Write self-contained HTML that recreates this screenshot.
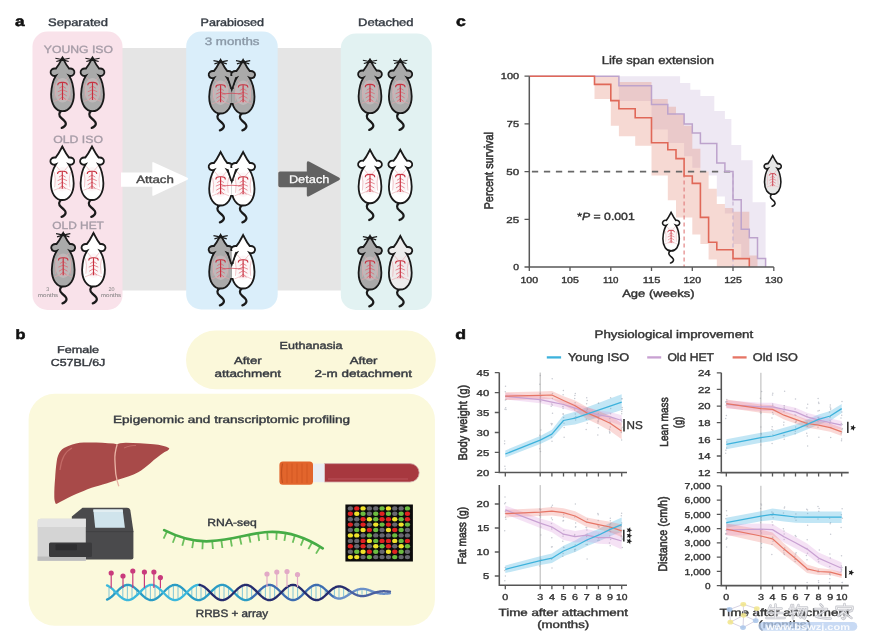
<!DOCTYPE html>
<html><head><meta charset="utf-8"><title>Figure</title>
<style>
html,body{margin:0;padding:0;background:#fff;width:869px;height:640px;overflow:hidden}
svg{display:block;filter:blur(0.45px)}
text{font-family:"Liberation Sans",sans-serif;text-rendering:geometricPrecision}
</style></head><body>
<svg width="869" height="640" viewBox="0 0 869 640">
<rect width="869" height="640" fill="#ffffff"/>
<defs>
<path id="mtail" d="M-0.5,51.5 C-4,54 -4.5,57 -1,59.5 C2.5,62 5,64.5 2.5,67 C1.5,68 0.5,68.6 -0.8,68.9" fill="none" stroke="#1a1a1a" stroke-width="2.3" stroke-linecap="round"/>
<g id="mvasc"><ellipse cx="0" cy="32" rx="8.5" ry="12" fill="#f6dde2" opacity="0.28"/><path d="M-2,24 L-6,19.5 M2,24 L6,19.5 M-8.5,25 Q-6.5,31 -8,40 M8.5,25 Q6.5,31 8,40 M-9,43 Q0,38.5 9,43" fill="none" stroke="#e9a3aa" stroke-width="0.6"/><path d="M0,28 L-3.5,30 M0,28 L3.5,30 M0,31.5 L-5,33.5 M0,31.5 L5,33.5 M0,35 L-4.5,37.5 M0,35 L4.5,37.5 M0,38.5 L-3.5,41 M0,38.5 L3.5,41" fill="none" stroke="#e0606e" stroke-width="0.75"/><path d="M-5,27 Q-5,24 0,24.3 Q5,24 5,27 M0,24 L0,41.5" fill="none" stroke="#c8303f" stroke-width="1.2"/></g>
<path id="mbody" d="M0,0 C1.2,2 3.5,7 7,10.8 C10.5,10.3 13,12.5 12.5,15 C12,17.5 9,18.5 6.8,17.6 C8.5,20 11.6,27 12,36 C12,46 7,52.5 0,52.5 C-7,52.5 -12,46 -12,36 C-11.6,27 -8.5,20 -6.8,17.6 C-9,18.5 -12,17.5 -12.5,15 C-13,12.5 -10.5,10.3 -7,10.8 C-3.5,7 -1.2,2 0,0 Z"/>
<g id="mwhisk"><path d="M-7.5,0.6 Q-3,1.2 0,2.4 Q3,1.2 7.5,0.6 M-6.5,3.8 Q-3,2.6 0,2.4 Q3,2.6 6.5,3.8" fill="none" stroke="#1a1a1a" stroke-width="1.15"/><ellipse cx="0" cy="1.6" rx="2.2" ry="1.4" fill="#1a1a1a"/></g>
<ellipse id="mnose" cx="0" cy="1.0" rx="1.3" ry="1.0" fill="#1a1a1a"/>
</defs>
<rect x="112" y="48" width="240" height="242.5" fill="#e5e5e5"/>
<rect x="32.5" y="31.5" width="90" height="278.5" rx="15" fill="#f9e2ea"/>
<rect x="186.2" y="31.5" width="91.5" height="278" rx="15" fill="#daeefa"/>
<rect x="340.8" y="33.4" width="91" height="276.6" rx="15" fill="#e2f2f2"/>
<path d="M121,172.5 H152.3 V163 Q152.3,161.5 154,162.4 L187.5,177.8 Q189,178.8 187.5,179.8 L154,195.5 Q152.3,196.4 152.3,195 V186.8 H121 Z" fill="#ffffff"/>
<path d="M280,171.4 H306.8 V163 Q306.8,160.5 309,161.6 L339,177.4 Q341,178.8 339,180.2 L309,196.2 Q306.8,197.4 306.8,195 V187.2 H280 Q278.3,187.2 278.3,185.5 V173.1 Q278.3,171.4 280,171.4 Z" fill="#626262"/>
<text x="15.1" y="25.9" font-size="14.2" fill="#111" font-weight="bold" textLength="9.6" lengthAdjust="spacingAndGlyphs" stroke="#111" stroke-width="0.5">a</text>
<text x="48.0" y="26.2" font-size="10.9" fill="#363c44" textLength="60.0" lengthAdjust="spacingAndGlyphs" stroke="#363c44" stroke-width="0.4">Separated</text>
<text x="200.5" y="26.3" font-size="10.8" fill="#363c44" textLength="63.6" lengthAdjust="spacingAndGlyphs" stroke="#363c44" stroke-width="0.4">Parabiosed</text>
<text x="358.1" y="26.3" font-size="10.8" fill="#363c44" textLength="55.4" lengthAdjust="spacingAndGlyphs" stroke="#363c44" stroke-width="0.4">Detached</text>
<text x="204.7" y="44.9" font-size="10.9" fill="#8a98a6" textLength="54.8" lengthAdjust="spacingAndGlyphs" stroke="#8a98a6" stroke-width="0.35">3 months</text>
<text x="43.8" y="52.5" font-size="10.5" fill="#a69ca7" textLength="69.1" lengthAdjust="spacingAndGlyphs" stroke="#a69ca7" stroke-width="0.35">YOUNG ISO</text>
<text x="53.2" y="142.5" font-size="10.5" fill="#a69ca7" textLength="49.8" lengthAdjust="spacingAndGlyphs" stroke="#a69ca7" stroke-width="0.35">OLD ISO</text>
<text x="52.3" y="229.2" font-size="10.5" fill="#a69ca7" textLength="51.6" lengthAdjust="spacingAndGlyphs" stroke="#a69ca7" stroke-width="0.35">OLD HET</text>
<text x="136.2" y="182.8" font-size="10.5" fill="#4a4a4a" textLength="37.7" lengthAdjust="spacingAndGlyphs" stroke="#4a4a4a" stroke-width="0.4">Attach</text>
<text x="288.9" y="182.9" font-size="11.0" fill="#ffffff" textLength="40.5" lengthAdjust="spacingAndGlyphs" stroke="#ffffff" stroke-width="0.25">Detach</text>
<text x="47.8" y="291.3" font-size="5.4" fill="#7a7a7a" text-anchor="middle">3</text>
<text x="48.0" y="296.8" font-size="5.4" fill="#7a7a7a" text-anchor="middle" textLength="20.5" lengthAdjust="spacingAndGlyphs">months</text>
<text x="111.5" y="291.3" font-size="5.4" fill="#7a7a7a" text-anchor="middle" textLength="6.0" lengthAdjust="spacingAndGlyphs">20</text>
<text x="111.0" y="296.8" font-size="5.4" fill="#7a7a7a" text-anchor="middle" textLength="20.5" lengthAdjust="spacingAndGlyphs">months</text>
<g transform="translate(62.5,57.6) scale(0.950,1.020)"><use href="#mtail"/><use href="#mbody" fill="#aaaaaa" stroke="#1a1a1a" stroke-width="1.9"/><use href="#mvasc"/><use href="#mwhisk"/></g>
<g transform="translate(92.5,57.6) scale(0.950,1.020)"><use href="#mtail"/><use href="#mbody" fill="#aaaaaa" stroke="#1a1a1a" stroke-width="1.9"/><use href="#mvasc"/><use href="#mwhisk"/></g>
<g transform="translate(62.3,146.5) scale(0.950,1.020)"><use href="#mtail"/><use href="#mbody" fill="#ffffff" stroke="#1a1a1a" stroke-width="1.9"/><use href="#mvasc"/><use href="#mnose"/></g>
<g transform="translate(92,146.5) scale(0.950,1.020)"><use href="#mtail"/><use href="#mbody" fill="#ffffff" stroke="#1a1a1a" stroke-width="1.9"/><use href="#mvasc"/><use href="#mnose"/></g>
<g transform="translate(63.2,233) scale(0.950,1.020)"><use href="#mtail"/><use href="#mbody" fill="#aaaaaa" stroke="#1a1a1a" stroke-width="1.9"/><use href="#mvasc"/><use href="#mwhisk"/></g>
<g transform="translate(93.5,233) scale(0.950,1.020)"><use href="#mtail"/><use href="#mbody" fill="#ffffff" stroke="#1a1a1a" stroke-width="1.9"/><use href="#mvasc"/><use href="#mnose"/></g>
<g transform="translate(220.6,60) scale(0.950,1.020)"><use href="#mtail"/><use href="#mbody" fill="#aaaaaa" stroke="#1a1a1a" stroke-width="1.9"/><use href="#mvasc"/><use href="#mwhisk"/></g>
<g transform="translate(243.1,60) scale(0.950,1.020)"><use href="#mtail"/><use href="#mbody" fill="#aaaaaa" stroke="#1a1a1a" stroke-width="1.9"/><use href="#mvasc"/><use href="#mwhisk"/></g>
<path d="M228.3,76.0 L235.3,76.0 L232.7,90.0 L231.0,90.0 Z" fill="#aaaaaa"/>
<path d="M231.8,76.0 L235.3,76.0 L232.7,90.0 L231.8,90.0 Z" fill="#aaaaaa"/>
<rect x="228.8" y="89.0" width="3" height="14" fill="#aaaaaa"/>
<rect x="231.8" y="89.0" width="3" height="14" fill="#aaaaaa"/>
<path d="M227.8,78.0 L231.8,90.0 L235.8,78.0" stroke="#1a1a1a" stroke-width="1.5" fill="none"/>
<path d="M221.6,94 Q231.85,92.5 242.1,94" stroke="#d23c4c" stroke-width="0.7" fill="none"/>
<g transform="translate(220.6,152) scale(0.950,1.020)"><use href="#mtail"/><use href="#mbody" fill="#ffffff" stroke="#1a1a1a" stroke-width="1.9"/><use href="#mvasc"/><use href="#mnose"/></g>
<g transform="translate(243.1,152) scale(0.950,1.020)"><use href="#mtail"/><use href="#mbody" fill="#ffffff" stroke="#1a1a1a" stroke-width="1.9"/><use href="#mvasc"/><use href="#mnose"/></g>
<path d="M228.3,168.0 L235.3,168.0 L232.7,182.0 L231.0,182.0 Z" fill="#ffffff"/>
<path d="M231.8,168.0 L235.3,168.0 L232.7,182.0 L231.8,182.0 Z" fill="#ffffff"/>
<rect x="228.8" y="181.0" width="3" height="14" fill="#ffffff"/>
<rect x="231.8" y="181.0" width="3" height="14" fill="#ffffff"/>
<path d="M227.8,170.0 L231.8,182.0 L235.8,170.0" stroke="#1a1a1a" stroke-width="1.5" fill="none"/>
<path d="M221.6,186 Q231.85,184.5 242.1,186" stroke="#d23c4c" stroke-width="0.7" fill="none"/>
<g transform="translate(220.6,235) scale(0.950,1.020)"><use href="#mtail"/><use href="#mbody" fill="#aaaaaa" stroke="#1a1a1a" stroke-width="1.9"/><use href="#mvasc"/><use href="#mwhisk"/></g>
<g transform="translate(243.1,235) scale(0.950,1.020)"><use href="#mtail"/><use href="#mbody" fill="#ffffff" stroke="#1a1a1a" stroke-width="1.9"/><use href="#mvasc"/><use href="#mnose"/></g>
<path d="M228.3,251.0 L235.3,251.0 L232.7,265.0 L231.0,265.0 Z" fill="#aaaaaa"/>
<path d="M231.8,251.0 L235.3,251.0 L232.7,265.0 L231.8,265.0 Z" fill="#ffffff"/>
<rect x="228.8" y="264.0" width="3" height="14" fill="#aaaaaa"/>
<rect x="231.8" y="264.0" width="3" height="14" fill="#ffffff"/>
<path d="M227.8,253.0 L231.8,265.0 L235.8,253.0" stroke="#1a1a1a" stroke-width="1.5" fill="none"/>
<path d="M221.6,269 Q231.85,267.5 242.1,269" stroke="#d23c4c" stroke-width="0.7" fill="none"/>
<g transform="translate(370,59.6) scale(0.950,1.020)"><use href="#mtail"/><use href="#mbody" fill="#aaaaaa" stroke="#1a1a1a" stroke-width="1.9"/><use href="#mvasc"/><use href="#mwhisk"/></g>
<g transform="translate(400.3,59.6) scale(0.950,1.020)"><use href="#mtail"/><use href="#mbody" fill="#aaaaaa" stroke="#1a1a1a" stroke-width="1.9"/><use href="#mvasc"/><use href="#mwhisk"/></g>
<g transform="translate(370,149.7) scale(0.950,1.020)"><use href="#mtail"/><use href="#mbody" fill="#ffffff" stroke="#1a1a1a" stroke-width="1.9"/><use href="#mvasc"/><use href="#mnose"/></g>
<g transform="translate(400.3,149.7) scale(0.950,1.020)"><use href="#mtail"/><use href="#mbody" fill="#ffffff" stroke="#1a1a1a" stroke-width="1.9"/><use href="#mvasc"/><use href="#mnose"/></g>
<g transform="translate(370,236) scale(0.950,1.020)"><use href="#mtail"/><use href="#mbody" fill="#a9a9a9" stroke="#1a1a1a" stroke-width="1.9"/><use href="#mvasc"/><use href="#mwhisk"/></g>
<g transform="translate(400.3,236) scale(0.950,1.020)"><use href="#mtail"/><use href="#mbody" fill="#ededed" stroke="#1a1a1a" stroke-width="1.9"/><use href="#mvasc"/><use href="#mnose"/></g>
<path d="M618.9,76.2 H680.1 V83.1 H690.3 V89.7 H700.4 V96.0 H714.3 V110.9 H724.9 V118.9 H731.4 V144.9 H741.2 V160.2 H752.6 V202.3 H765.6 V261.3 H765.7 V267.0 H749.3 V257.5 H741.2 V244.1 H733.0 V213.6 H724.9 V196.4 H716.8 V175.4 H708.6 V171.6 H700.4 V167.8 H692.3 V156.3 H684.1 V143.0 H667.8 V129.6 H651.5 V101.0 H618.9 Z" fill="rgb(200,180,215)" fill-opacity="0.3"/>
<path d="M594.5,76.2 H618.9 V81.9 H651.5 V99.1 H667.8 V106.7 H676.0 V114.4 H684.1 V125.8 H692.3 V148.7 H700.4 V171.6 H708.6 V188.8 H716.8 V204.0 H724.9 V207.9 H733.0 V211.7 H749.3 V255.6 H757.5 V267.0 H716.8 V259.4 H708.6 V244.1 H700.4 V234.6 H692.3 V217.4 H676.0 V200.2 H667.8 V175.4 H651.5 V145.7 H635.2 V136.3 H618.9 V125.8 H610.8 V99.1 H594.5 Z" fill="rgb(225,130,110)" fill-opacity="0.3"/>
<path d="M529.3,171.6 H733.0" stroke="#686868" stroke-width="1.6" stroke-dasharray="6.3,5.7" stroke-dashoffset="9.4" fill="none"/>
<path d="M684.1,173.6 V267.0" stroke="#e07a7a" stroke-width="1.1" stroke-dasharray="4,3" fill="none"/>
<path d="M733.0,173.6 V267.0" stroke="#c4b0d0" stroke-width="1.1" stroke-dasharray="4,3" fill="none"/>
<path d="M529.3,76.2 H618.9 V85.7 H651.5 V104.4 H667.8 V114.0 H684.1 V123.9 H692.3 V133.1 H700.4 V143.4 H716.8 V163.0 H724.9 V171.4 H733.0 V199.8 H741.2 V229.2 H749.3 V237.8 H757.5 V258.6 H765.6 V267.0" stroke="#bda3cc" stroke-width="1.5" fill="none"/>
<path d="M529.3,76.2 H594.5 V84.4 H610.8 V100.6 H618.9 V108.8 H635.2 V117.8 H651.5 V142.8 H667.8 V149.7 H676.0 V158.6 H684.1 V176.0 H692.3 V183.4 H700.4 V217.4 H708.6 V242.2 H716.8 V249.8 H733.0 V258.6 H749.3 V267.0" stroke="#e06858" stroke-width="1.6" fill="none"/>
<path d="M529.3,76.2 V267.0 H773.8" stroke="#585858" stroke-width="1.5" fill="none"/>
<path d="M524.5,267.0 H529.3 M524.5,219.3 H529.3 M524.5,171.6 H529.3 M524.5,123.9 H529.3 M524.5,76.2 H529.3 M529.3,267.0 V271.0 M570.0,267.0 V271.0 M610.8,267.0 V271.0 M651.5,267.0 V271.0 M692.3,267.0 V271.0 M733.0,267.0 V271.0 M773.8,267.0 V271.0 " stroke="#585858" stroke-width="1.3" fill="none"/>
<text x="513.3" y="270.2" font-size="8.7" fill="#333" textLength="5.8" lengthAdjust="spacingAndGlyphs" stroke="#333" stroke-width="0.35">0</text>
<text x="506.2" y="222.5" font-size="8.7" fill="#333" textLength="12.9" lengthAdjust="spacingAndGlyphs" stroke="#333" stroke-width="0.35">25</text>
<text x="506.2" y="174.8" font-size="8.7" fill="#333" textLength="12.9" lengthAdjust="spacingAndGlyphs" stroke="#333" stroke-width="0.35">50</text>
<text x="506.8" y="127.1" font-size="8.7" fill="#333" textLength="12.3" lengthAdjust="spacingAndGlyphs" stroke="#333" stroke-width="0.35">75</text>
<text x="500.8" y="79.4" font-size="8.7" fill="#333" textLength="18.3" lengthAdjust="spacingAndGlyphs" stroke="#333" stroke-width="0.35">100</text>
<text x="520.4" y="282.6" font-size="8.7" fill="#333" textLength="17.7" lengthAdjust="spacingAndGlyphs" stroke="#333" stroke-width="0.35">100</text>
<text x="561.2" y="282.6" font-size="8.7" fill="#333" textLength="17.7" lengthAdjust="spacingAndGlyphs" stroke="#333" stroke-width="0.35">105</text>
<text x="603.0" y="282.6" font-size="8.7" fill="#333" textLength="15.5" lengthAdjust="spacingAndGlyphs" stroke="#333" stroke-width="0.35">110</text>
<text x="642.7" y="282.6" font-size="8.7" fill="#333" textLength="17.7" lengthAdjust="spacingAndGlyphs" stroke="#333" stroke-width="0.35">115</text>
<text x="683.4" y="282.6" font-size="8.7" fill="#333" textLength="17.7" lengthAdjust="spacingAndGlyphs" stroke="#333" stroke-width="0.35">120</text>
<text x="724.2" y="282.6" font-size="8.7" fill="#333" textLength="17.7" lengthAdjust="spacingAndGlyphs" stroke="#333" stroke-width="0.35">125</text>
<text x="764.9" y="282.6" font-size="8.7" fill="#333" textLength="17.7" lengthAdjust="spacingAndGlyphs" stroke="#333" stroke-width="0.35">130</text>
<text x="456.1" y="25.9" font-size="14.2" fill="#111" font-weight="bold" textLength="9.8" lengthAdjust="spacingAndGlyphs" stroke="#111" stroke-width="0.5">c</text>
<text x="601.7" y="64.4" font-size="11.3" fill="#333" textLength="112.2" lengthAdjust="spacingAndGlyphs" stroke="#333" stroke-width="0.4">Life span extension</text>
<text x="622.2" y="296.9" font-size="10.5" fill="#333" textLength="72.4" lengthAdjust="spacingAndGlyphs" stroke="#333" stroke-width="0.4">Age (weeks)</text>
<text x="0.0" y="0.0" font-size="10.9" fill="#333" text-anchor="middle" textLength="77.4" lengthAdjust="spacingAndGlyphs" stroke="#333" stroke-width="0.5" transform="translate(493.3,170.7) scale(1.15,1) rotate(-90)">Percent survival</text>
<text x="577.3" y="220.0" font-size="10.4" fill="#333" stroke="#333" stroke-width="0.4" textLength="57.4" lengthAdjust="spacingAndGlyphs">*<tspan font-style="italic">P</tspan> = 0.001</text>
<g transform="translate(671.1,212.4) scale(0.684,0.734)"><use href="#mtail"/><use href="#mbody" fill="#ffffff" stroke="#1a1a1a" stroke-width="2.3"/><use href="#mvasc"/><use href="#mnose"/></g>
<g transform="translate(772.7,155.7) scale(0.684,0.734)"><use href="#mtail"/><use href="#mbody" fill="#e6e6e6" stroke="#1a1a1a" stroke-width="2.3"/><use href="#mvasc"/><use href="#mnose"/></g>
<rect x="186" y="330.4" width="249.8" height="58.9" rx="29.4" fill="#fbf8da"/>
<rect x="28.6" y="393.8" width="406.3" height="232" rx="26" fill="#fbf9dc"/>
<text x="15.6" y="338.9" font-size="13.6" fill="#111" font-weight="bold" textLength="10.0" lengthAdjust="spacingAndGlyphs" stroke="#111" stroke-width="0.5">b</text>
<text x="57.0" y="353.2" font-size="10.0" fill="#363a40" textLength="42.1" lengthAdjust="spacingAndGlyphs" stroke="#363a40" stroke-width="0.4">Female</text>
<text x="50.7" y="365.5" font-size="10.2" fill="#363a40" textLength="54.6" lengthAdjust="spacingAndGlyphs" stroke="#363a40" stroke-width="0.4">C57BL/6J</text>
<text x="279.6" y="348.9" font-size="10.2" fill="#363a40" textLength="62.9" lengthAdjust="spacingAndGlyphs" stroke="#363a40" stroke-width="0.4">Euthanasia</text>
<text x="233.9" y="364.1" font-size="10.2" fill="#363a40" textLength="27.8" lengthAdjust="spacingAndGlyphs" stroke="#363a40" stroke-width="0.4">After</text>
<text x="214.4" y="376.7" font-size="10.2" fill="#363a40" textLength="66.7" lengthAdjust="spacingAndGlyphs" stroke="#363a40" stroke-width="0.4">attachment</text>
<text x="349.7" y="364.1" font-size="10.2" fill="#363a40" textLength="27.8" lengthAdjust="spacingAndGlyphs" stroke="#363a40" stroke-width="0.4">After</text>
<text x="314.6" y="376.7" font-size="10.2" fill="#363a40" textLength="97.3" lengthAdjust="spacingAndGlyphs" stroke="#363a40" stroke-width="0.4">2-m detachment</text>
<text x="113.0" y="422.5" font-size="10.4" fill="#363a40" textLength="237.1" lengthAdjust="spacingAndGlyphs" stroke="#363a40" stroke-width="0.4">Epigenomic and transcriptomic profiling</text>
<text x="207.3" y="526.4" font-size="10.4" fill="#363a40" textLength="49.4" lengthAdjust="spacingAndGlyphs" stroke="#363a40" stroke-width="0.4">RNA-seq</text>
<text x="195.7" y="616.6" font-size="10.7" fill="#363a40" textLength="72.5" lengthAdjust="spacingAndGlyphs" stroke="#363a40" stroke-width="0.4">RRBS + array</text>
<path d="M56.7,461.4 C58,452 62,448 68.3,445.9 C74,443.8 78,442.8 83.8,442.5 C95,442.2 105,442.8 113.4,443.5 L117,444.3 L120,443.3 C122,443 124,442.8 125.8,442.8 C135,443 145,443.6 153.7,444.3 C160,445 166,446 169.3,448.2 C169,450 167,451 164.6,452.1 C159,456 155,459 150.6,463 C146,467 142,470 138.2,472.3 C132,475.5 126,477.5 119.6,479.3 C115,480.8 111,482 107.1,483.2 C101,485 96,486.3 91.6,487.8 C86,490 81,492 76.1,494 C70,496.8 65,499.2 60.5,501.8 C58.5,503 57,504 55.9,504.1 C54.8,502 54.3,500 54.3,497.1 C54.2,490 54.6,484 55.1,478.5 C55.5,472 56,466 56.7,461.4 Z" fill="#a84a49"/>
<path d="M117.2,444.3 C115.5,450 114.6,455 114.9,460 C115.2,466 115.4,470 115.8,474 C116.6,479 117.6,483 118.8,486.3" stroke="#e9b4a6" stroke-width="1.3" fill="none"/>
<path d="M60,470 C61,460 64,452 72,448" stroke="#c26a66" stroke-width="1.2" fill="none"/>
<path d="M124,448 C128,446 132,445.5 136,445.5" stroke="#c26a66" stroke-width="1" fill="none"/>
<path d="M324.4,463.6 H410 A9.2,9.2 0 0 1 410,482 H324.4 Z" fill="#a7383f" stroke="#cfa9a9" stroke-width="0.8"/>
<path d="M328,479 H408" stroke="#c05a62" stroke-width="0.8" fill="none"/>
<rect x="312.8" y="463.6" width="11.6" height="18.6" fill="#e9edf3"/>
<rect x="279.4" y="461.6" width="33.6" height="23.1" rx="3.5" fill="#e2652c"/>
<path d="M287,463.5 V483 M292,463.5 V483 M297,463.5 V483 M302,463.5 V483 M307,463.5 V483" stroke="#cc5420" stroke-width="0.7" fill="none"/>
<path d="M282.5,463.5 Q280.5,473 282.5,483" stroke="#c24f1e" stroke-width="1.2" fill="none"/>
<path d="M71.8,516.5 L82.5,507.8 H127 Q129.5,507.8 130.3,510 L133.4,531 V557.5 Q133.4,559.6 131.3,559.6 H71.8 Z" fill="#4a4a4c"/>
<path d="M93.3,509.6 H122.6 L124.9,527.8 H95.2 Z" fill="#d0e4ec"/>
<path d="M93.4,509.6 H122.6 L122.9,512 H93.6 Z" fill="#e2eef2"/>
<path d="M72,531.6 H133.4" stroke="#3e3e40" stroke-width="0.8"/>
<path d="M37.6,522 Q37.6,518.8 40.8,518.8 H85.8 V560.8 H37.6 Z" fill="#d4d4d4"/>
<path d="M37.6,522 Q37.6,518.8 40.8,518.8 H85.8 V527 H37.6 Z" fill="#e3e3e3"/>
<rect x="37.6" y="556.5" width="48.2" height="4.3" fill="#bdbdbd"/>
<rect x="49" y="542.4" width="43" height="14.6" rx="1.5" fill="#3a3a3c"/>
<rect x="55.5" y="544.2" width="21.5" height="6" rx="1" fill="#2e2e30"/>
<rect x="345.4" y="504.5" width="67.5" height="57" fill="#0b0b0b"/>
<ellipse cx="350.4" cy="508.4" rx="2.65" ry="2.2" fill="#686870"/><ellipse cx="356.8" cy="508.4" rx="2.65" ry="2.2" fill="#e02222"/><ellipse cx="363.1" cy="508.4" rx="2.65" ry="2.2" fill="#f0e22a"/><ellipse cx="369.4" cy="508.4" rx="2.65" ry="2.2" fill="#686870"/><ellipse cx="375.8" cy="508.4" rx="2.65" ry="2.2" fill="#686870"/><ellipse cx="382.1" cy="508.4" rx="2.65" ry="2.2" fill="#6cbc40"/><ellipse cx="388.5" cy="508.4" rx="2.65" ry="2.2" fill="#f0e22a"/><ellipse cx="394.8" cy="508.4" rx="2.65" ry="2.2" fill="#686870"/><ellipse cx="401.2" cy="508.4" rx="2.65" ry="2.2" fill="#686870"/><ellipse cx="407.5" cy="508.4" rx="2.65" ry="2.2" fill="#6cbc40"/><ellipse cx="350.4" cy="513.8" rx="2.65" ry="2.2" fill="#e02222"/><ellipse cx="356.8" cy="513.8" rx="2.65" ry="2.2" fill="#f0e22a"/><ellipse cx="363.1" cy="513.8" rx="2.65" ry="2.2" fill="#6cbc40"/><ellipse cx="369.4" cy="513.8" rx="2.65" ry="2.2" fill="#686870"/><ellipse cx="375.8" cy="513.8" rx="2.65" ry="2.2" fill="#6cbc40"/><ellipse cx="382.1" cy="513.8" rx="2.65" ry="2.2" fill="#e02222"/><ellipse cx="388.5" cy="513.8" rx="2.65" ry="2.2" fill="#6cbc40"/><ellipse cx="394.8" cy="513.8" rx="2.65" ry="2.2" fill="#686870"/><ellipse cx="401.2" cy="513.8" rx="2.65" ry="2.2" fill="#6cbc40"/><ellipse cx="407.5" cy="513.8" rx="2.65" ry="2.2" fill="#e02222"/><ellipse cx="350.4" cy="519.2" rx="2.65" ry="2.2" fill="#686870"/><ellipse cx="356.8" cy="519.2" rx="2.65" ry="2.2" fill="#686870"/><ellipse cx="363.1" cy="519.2" rx="2.65" ry="2.2" fill="#e02222"/><ellipse cx="369.4" cy="519.2" rx="2.65" ry="2.2" fill="#f0e22a"/><ellipse cx="375.8" cy="519.2" rx="2.65" ry="2.2" fill="#6cbc40"/><ellipse cx="382.1" cy="519.2" rx="2.65" ry="2.2" fill="#e02222"/><ellipse cx="388.5" cy="519.2" rx="2.65" ry="2.2" fill="#e02222"/><ellipse cx="394.8" cy="519.2" rx="2.65" ry="2.2" fill="#f0e22a"/><ellipse cx="401.2" cy="519.2" rx="2.65" ry="2.2" fill="#6cbc40"/><ellipse cx="407.5" cy="519.2" rx="2.65" ry="2.2" fill="#e02222"/><ellipse cx="350.4" cy="524.6" rx="2.65" ry="2.2" fill="#e02222"/><ellipse cx="356.8" cy="524.6" rx="2.65" ry="2.2" fill="#686870"/><ellipse cx="363.1" cy="524.6" rx="2.65" ry="2.2" fill="#e02222"/><ellipse cx="369.4" cy="524.6" rx="2.65" ry="2.2" fill="#686870"/><ellipse cx="375.8" cy="524.6" rx="2.65" ry="2.2" fill="#f0e22a"/><ellipse cx="382.1" cy="524.6" rx="2.65" ry="2.2" fill="#6cbc40"/><ellipse cx="388.5" cy="524.6" rx="2.65" ry="2.2" fill="#e02222"/><ellipse cx="394.8" cy="524.6" rx="2.65" ry="2.2" fill="#686870"/><ellipse cx="401.2" cy="524.6" rx="2.65" ry="2.2" fill="#f0e22a"/><ellipse cx="407.5" cy="524.6" rx="2.65" ry="2.2" fill="#6cbc40"/><ellipse cx="350.4" cy="530.0" rx="2.65" ry="2.2" fill="#686870"/><ellipse cx="356.8" cy="530.0" rx="2.65" ry="2.2" fill="#6cbc40"/><ellipse cx="363.1" cy="530.0" rx="2.65" ry="2.2" fill="#f0e22a"/><ellipse cx="369.4" cy="530.0" rx="2.65" ry="2.2" fill="#e02222"/><ellipse cx="375.8" cy="530.0" rx="2.65" ry="2.2" fill="#6cbc40"/><ellipse cx="382.1" cy="530.0" rx="2.65" ry="2.2" fill="#686870"/><ellipse cx="388.5" cy="530.0" rx="2.65" ry="2.2" fill="#f0e22a"/><ellipse cx="394.8" cy="530.0" rx="2.65" ry="2.2" fill="#e02222"/><ellipse cx="401.2" cy="530.0" rx="2.65" ry="2.2" fill="#6cbc40"/><ellipse cx="407.5" cy="530.0" rx="2.65" ry="2.2" fill="#686870"/><ellipse cx="350.4" cy="535.4" rx="2.65" ry="2.2" fill="#f0e22a"/><ellipse cx="356.8" cy="535.4" rx="2.65" ry="2.2" fill="#f0e22a"/><ellipse cx="363.1" cy="535.4" rx="2.65" ry="2.2" fill="#686870"/><ellipse cx="369.4" cy="535.4" rx="2.65" ry="2.2" fill="#6cbc40"/><ellipse cx="375.8" cy="535.4" rx="2.65" ry="2.2" fill="#686870"/><ellipse cx="382.1" cy="535.4" rx="2.65" ry="2.2" fill="#686870"/><ellipse cx="388.5" cy="535.4" rx="2.65" ry="2.2" fill="#686870"/><ellipse cx="394.8" cy="535.4" rx="2.65" ry="2.2" fill="#6cbc40"/><ellipse cx="401.2" cy="535.4" rx="2.65" ry="2.2" fill="#686870"/><ellipse cx="407.5" cy="535.4" rx="2.65" ry="2.2" fill="#686870"/><ellipse cx="350.4" cy="540.9" rx="2.65" ry="2.2" fill="#686870"/><ellipse cx="356.8" cy="540.9" rx="2.65" ry="2.2" fill="#686870"/><ellipse cx="363.1" cy="540.9" rx="2.65" ry="2.2" fill="#e02222"/><ellipse cx="369.4" cy="540.9" rx="2.65" ry="2.2" fill="#f0e22a"/><ellipse cx="375.8" cy="540.9" rx="2.65" ry="2.2" fill="#6cbc40"/><ellipse cx="382.1" cy="540.9" rx="2.65" ry="2.2" fill="#e02222"/><ellipse cx="388.5" cy="540.9" rx="2.65" ry="2.2" fill="#e02222"/><ellipse cx="394.8" cy="540.9" rx="2.65" ry="2.2" fill="#f0e22a"/><ellipse cx="401.2" cy="540.9" rx="2.65" ry="2.2" fill="#6cbc40"/><ellipse cx="407.5" cy="540.9" rx="2.65" ry="2.2" fill="#e02222"/><ellipse cx="350.4" cy="546.3" rx="2.65" ry="2.2" fill="#e02222"/><ellipse cx="356.8" cy="546.3" rx="2.65" ry="2.2" fill="#686870"/><ellipse cx="363.1" cy="546.3" rx="2.65" ry="2.2" fill="#e02222"/><ellipse cx="369.4" cy="546.3" rx="2.65" ry="2.2" fill="#686870"/><ellipse cx="375.8" cy="546.3" rx="2.65" ry="2.2" fill="#f0e22a"/><ellipse cx="382.1" cy="546.3" rx="2.65" ry="2.2" fill="#6cbc40"/><ellipse cx="388.5" cy="546.3" rx="2.65" ry="2.2" fill="#e02222"/><ellipse cx="394.8" cy="546.3" rx="2.65" ry="2.2" fill="#686870"/><ellipse cx="401.2" cy="546.3" rx="2.65" ry="2.2" fill="#f0e22a"/><ellipse cx="407.5" cy="546.3" rx="2.65" ry="2.2" fill="#6cbc40"/><ellipse cx="350.4" cy="551.7" rx="2.65" ry="2.2" fill="#686870"/><ellipse cx="356.8" cy="551.7" rx="2.65" ry="2.2" fill="#6cbc40"/><ellipse cx="363.1" cy="551.7" rx="2.65" ry="2.2" fill="#f0e22a"/><ellipse cx="369.4" cy="551.7" rx="2.65" ry="2.2" fill="#e02222"/><ellipse cx="375.8" cy="551.7" rx="2.65" ry="2.2" fill="#6cbc40"/><ellipse cx="382.1" cy="551.7" rx="2.65" ry="2.2" fill="#686870"/><ellipse cx="388.5" cy="551.7" rx="2.65" ry="2.2" fill="#f0e22a"/><ellipse cx="394.8" cy="551.7" rx="2.65" ry="2.2" fill="#e02222"/><ellipse cx="401.2" cy="551.7" rx="2.65" ry="2.2" fill="#6cbc40"/><ellipse cx="407.5" cy="551.7" rx="2.65" ry="2.2" fill="#686870"/><ellipse cx="350.4" cy="557.1" rx="2.65" ry="2.2" fill="#f0e22a"/><ellipse cx="356.8" cy="557.1" rx="2.65" ry="2.2" fill="#f0e22a"/><ellipse cx="363.1" cy="557.1" rx="2.65" ry="2.2" fill="#686870"/><ellipse cx="369.4" cy="557.1" rx="2.65" ry="2.2" fill="#6cbc40"/><ellipse cx="375.8" cy="557.1" rx="2.65" ry="2.2" fill="#686870"/><ellipse cx="382.1" cy="557.1" rx="2.65" ry="2.2" fill="#686870"/><ellipse cx="388.5" cy="557.1" rx="2.65" ry="2.2" fill="#686870"/><ellipse cx="394.8" cy="557.1" rx="2.65" ry="2.2" fill="#6cbc40"/><ellipse cx="401.2" cy="557.1" rx="2.65" ry="2.2" fill="#686870"/><ellipse cx="407.5" cy="557.1" rx="2.65" ry="2.2" fill="#686870"/>
<path d="M167.0,531.5 L163.6,538.7 M175.7,535.2 L172.8,542.7 M184.4,538.1 L182.3,545.8 M193.5,540.2 L192.2,548.1 M202.8,541.2 L202.4,549.2 M212.2,541.0 L212.9,549.0 M221.3,540.1 L222.4,548.0 M230.5,538.6 L231.9,546.5 M239.7,536.8 L241.4,544.6 M248.9,534.8 L250.5,542.6 M258.0,533.1 L259.2,541.0 M267.2,532.0 L267.7,540.0 M276.7,531.9 L276.3,539.9 M285.7,532.9 L284.4,540.8 M295.0,535.1 L292.7,542.8 M303.8,538.2 L300.8,545.6 M312.2,542.1 L308.4,549.2 M320.2,546.7 L316.0,553.6 " stroke="#6cc05c" stroke-width="1.8" fill="none"/>
<path d="M164.2,530.1 C180,538 195,542 210,541.2 C235,539.5 250,533 268,532 C285,531 302,535 322.7,548.3" stroke="#46ac46" stroke-width="2.7" fill="none" stroke-linecap="round"/>
<path d="M109.0,587.4 V597.6 M113.6,591.1 V593.9 M118.2,591.3 V593.7 M122.8,587.5 V597.5 M127.4,585.9 V599.1 M132.0,587.1 V597.9 M136.6,590.5 V594.5 M141.2,591.9 V593.1 M145.8,587.9 V597.1 M150.4,586.0 V599.0 M155.0,586.8 V598.2 M159.6,590.0 V595.0 M164.2,592.5 V592.5 M168.8,588.3 V596.7 M173.4,586.1 V598.9 M178.0,586.5 V598.5 M182.6,589.5 V595.5 M187.2,593.1 V591.9 M191.8,588.8 V596.2 M196.4,586.2 V598.8 M201.0,586.3 V598.7 M205.6,589.0 V596.0 M210.2,593.3 V591.7 M214.8,589.3 V595.7 M219.4,586.4 V598.6 M224.0,586.1 V598.9 M228.6,588.5 V596.5 M233.2,592.7 V592.3 M237.8,589.8 V595.2 M242.4,586.7 V598.3 M247.0,586.0 V599.0 M251.6,588.1 V596.9 M256.2,592.1 V592.9 M260.8,590.4 V594.6 M265.4,587.0 V598.0 M270.0,585.9 V599.1 M274.6,587.6 V597.4 M279.2,591.5 V593.5 M283.8,590.9 V594.1 M288.4,587.3 V597.7 M293.0,585.9 V599.1 M297.6,587.3 V597.7 M302.2,590.9 V594.1 M306.8,591.5 V593.5 M311.4,587.6 V597.4 M316.0,585.9 V599.1 M320.6,587.0 V598.0 M325.2,590.4 V594.6 M329.8,592.2 V592.8 M334.4,588.8 V596.2 M339.0,587.4 V597.6 M343.6,588.4 V596.6 M348.2,591.0 V594.0 M352.8,593.0 V592.0 M357.4,590.7 V594.3 M362.0,589.9 V595.1 M366.6,590.5 V594.5 M371.2,592.0 V593.0 " stroke="#8ccbd8" stroke-width="1.1" fill="none"/>
<path d="M107.0,599.6 L107.5,599.4 M107.5,599.4 L108.0,599.1 M108.0,599.1 L108.5,598.9 M108.5,598.9 L109.0,598.6 M109.0,598.6 L109.5,598.3 M109.5,598.3 L110.0,597.9 M110.0,597.9 L110.5,597.6 M110.5,597.6 L111.0,597.2 M111.0,597.2 L111.5,596.8 M111.5,596.8 L112.0,596.4 M112.0,596.4 L112.5,595.9 M112.5,595.9 L113.0,595.5 M113.0,595.5 L113.5,595.0 M113.5,595.0 L114.0,594.5 M114.0,594.5 L114.5,594.0 M114.5,594.0 L115.0,593.5 M115.0,593.5 L115.5,593.0 M115.5,593.0 L116.0,592.5 M116.0,592.5 L116.5,592.0 M116.5,592.0 L117.0,591.5 M117.0,591.5 L117.5,591.0 M117.5,591.0 L118.0,590.5 M118.0,590.5 L118.5,590.0 M118.5,590.0 L119.0,589.5 M119.0,589.5 L119.5,589.1 M119.5,589.1 L120.0,588.6 M120.0,588.6 L120.5,588.2 M120.5,588.2 L121.0,587.8 M121.0,587.8 L121.5,587.4 M121.5,587.4 L122.0,587.1 M122.0,587.1 L122.5,586.7 M122.5,586.7 L123.0,586.4 M123.0,586.4 L123.5,586.1 M123.5,586.1 L124.0,585.9 M124.0,585.9 L124.5,585.6 M124.5,585.6 L125.0,585.4 M125.0,585.4 L125.5,585.3 M125.5,585.3 L126.0,585.1 M126.0,585.1 L126.5,585.0 M126.5,585.0 L127.0,584.9 M127.0,584.9 L127.5,584.9 M127.5,584.9 L128.0,584.9 M128.0,584.9 L128.5,584.9 M128.5,584.9 L129.0,585.0 M129.0,585.0 L129.5,585.1 M129.5,585.1 L130.0,585.2 M130.0,585.2 L130.5,585.4 M130.5,585.4 L131.0,585.6 M131.0,585.6 L131.5,585.8 M131.5,585.8 L132.0,586.1 M132.0,586.1 L132.5,586.3 M132.5,586.3 L133.0,586.6 M133.0,586.6 L133.5,587.0 M133.5,587.0 L134.0,587.3 M134.0,587.3 L134.5,587.7 M134.5,587.7 L135.0,588.1 M135.0,588.1 L135.5,588.6 M135.5,588.6 L136.0,589.0 M136.0,589.0 L136.5,589.5 M136.5,589.5 L137.0,589.9 M137.0,589.9 L137.5,590.4 M137.5,590.4 L138.0,590.9 M138.0,590.9 L138.5,591.4 M138.5,591.4 L139.0,591.9 M139.0,591.9 L139.5,592.4 M139.5,592.4 L140.0,592.9 M140.0,592.9 L140.5,593.4 M140.5,593.4 L141.0,593.9 M141.0,593.9 L141.5,594.4 M141.5,594.4 L142.0,594.9 M142.0,594.9 L142.5,595.4 M142.5,595.4 L143.0,595.8 M143.0,595.8 L143.5,596.3 M143.5,596.3 L144.0,596.7 M144.0,596.7 L144.5,597.1 M144.5,597.1 L145.0,597.5 M145.0,597.5 L145.5,597.9 M145.5,597.9 L146.0,598.2 M146.0,598.2 L146.5,598.5 M146.5,598.5 L147.0,598.8 M147.0,598.8 L147.5,599.1 M147.5,599.1 L148.0,599.3 M148.0,599.3 L148.5,599.5 M148.5,599.5 L149.0,599.7 M149.0,599.7 L149.5,599.9 M149.5,599.9 L150.0,600.0 M150.0,600.0 L150.5,600.0 M150.5,600.0 L151.0,600.1 M151.0,600.1 L151.5,600.1 M151.5,600.1 L152.0,600.1 M152.0,600.1 L152.5,600.0 M152.5,600.0 L153.0,599.9 M153.0,599.9 L153.5,599.8 M153.5,599.8 L154.0,599.6 M154.0,599.6 L154.5,599.5 M154.5,599.5 L155.0,599.2 M155.0,599.2 L155.5,599.0 M155.5,599.0 L156.0,598.7 M156.0,598.7 L156.5,598.4 M156.5,598.4 L157.0,598.1 M157.0,598.1 L157.5,597.7 M157.5,597.7 L158.0,597.4 M158.0,597.4 L158.5,597.0 M158.5,597.0 L159.0,596.5 M159.0,596.5 L159.5,596.1 M159.5,596.1 L160.0,595.6 M160.0,595.6 L160.5,595.2 M160.5,595.2 L161.0,594.7 M161.0,594.7 L161.5,594.2 M161.5,594.2 L162.0,593.7 M162.0,593.7 L162.5,593.2 M162.5,593.2 L163.0,592.7 M163.0,592.7 L163.5,592.2 M163.5,592.2 L164.0,591.7 M164.0,591.7 L164.5,591.2 M164.5,591.2 L165.0,590.7 M165.0,590.7 L165.5,590.2 M165.5,590.2 L166.0,589.7 M166.0,589.7 L166.5,589.3 M166.5,589.3 L167.0,588.8 M167.0,588.8 L167.5,588.4 M167.5,588.4 L168.0,588.0 M168.0,588.0 L168.5,587.6 M168.5,587.6 L169.0,587.2 M169.0,587.2 L169.5,586.8 M169.5,586.8 L170.0,586.5 M170.0,586.5 L170.5,586.2 M170.5,586.2 L171.0,586.0 M171.0,586.0 L171.5,585.7 M171.5,585.7 L172.0,585.5 M172.0,585.5 L172.5,585.3 M172.5,585.3 L173.0,585.2 M173.0,585.2 L173.5,585.1 M173.5,585.1 L174.0,585.0 M174.0,585.0 L174.5,584.9 M174.5,584.9 L175.0,584.9 M175.0,584.9 L175.5,584.9 M175.5,584.9 L176.0,585.0 M176.0,585.0 L176.5,585.1 M176.5,585.1 L177.0,585.2 M177.0,585.2 L177.5,585.3 M177.5,585.3 L178.0,585.5 M178.0,585.5 L178.5,585.7 M178.5,585.7 L179.0,586.0 M179.0,586.0 L179.5,586.2 M179.5,586.2 L180.0,586.5 M180.0,586.5 L180.5,586.8 M180.5,586.8 L181.0,587.2 M181.0,587.2 L181.5,587.6 M181.5,587.6 L182.0,588.0 M182.0,588.0 L182.5,588.4 M182.5,588.4 L183.0,588.8 M183.0,588.8 L183.5,589.3 M183.5,589.3 L184.0,589.7 M184.0,589.7 L184.5,590.2 M184.5,590.2 L185.0,590.7 M185.0,590.7 L185.5,591.2 M185.5,591.2 L186.0,591.7 M186.0,591.7 L186.5,592.2 M186.5,592.2 L187.0,592.7 M187.0,592.7 L187.5,593.2 M187.5,593.2 L188.0,593.7 M188.0,593.7 L188.5,594.2 M188.5,594.2 L189.0,594.7 M189.0,594.7 L189.5,595.2 M189.5,595.2 L190.0,595.6 M190.0,595.6 L190.5,596.1 M190.5,596.1 L191.0,596.5 M191.0,596.5 L191.5,597.0 M191.5,597.0 L192.0,597.4 M192.0,597.4 L192.5,597.7 M192.5,597.7 L193.0,598.1 M193.0,598.1 L193.5,598.4 M193.5,598.4 L194.0,598.7 M194.0,598.7 L194.5,599.0 M194.5,599.0 L195.0,599.2 M195.0,599.2 L195.5,599.5 M195.5,599.5 L196.0,599.6 M196.0,599.6 L196.5,599.8 M196.5,599.8 L197.0,599.9 M197.0,599.9 L197.5,600.0 M197.5,600.0 L198.0,600.1 M198.0,600.1 L198.5,600.1 M198.5,600.1 L199.0,600.1 M199.0,600.1 L199.5,600.0 M199.5,600.0 L200.0,600.0 M200.0,600.0 L200.5,599.9 M200.5,599.9 L201.0,599.7 M201.0,599.7 L201.5,599.5 M201.5,599.5 L202.0,599.3 M202.0,599.3 L202.5,599.1 M202.5,599.1 L203.0,598.8 M203.0,598.8 L203.5,598.5 M203.5,598.5 L204.0,598.2 M204.0,598.2 L204.5,597.9 M204.5,597.9 L205.0,597.5 M205.0,597.5 L205.5,597.1 M205.5,597.1 L206.0,596.7 M206.0,596.7 L206.5,596.3 M206.5,596.3 L207.0,595.8 M207.0,595.8 L207.5,595.4 M207.5,595.4 L208.0,594.9 M208.0,594.9 L208.5,594.4 M208.5,594.4 L209.0,593.9 M209.0,593.9 L209.5,593.4 M209.5,593.4 L210.0,592.9 M210.0,592.9 L210.5,592.4 M210.5,592.4 L211.0,591.9 M211.0,591.9 L211.5,591.4 M211.5,591.4 L212.0,590.9 M212.0,590.9 L212.5,590.4 M212.5,590.4 L213.0,589.9 M213.0,589.9 L213.5,589.5 M213.5,589.5 L214.0,589.0 M214.0,589.0 L214.5,588.6 M214.5,588.6 L215.0,588.1 M215.0,588.1 L215.5,587.7 M215.5,587.7 L216.0,587.3 M216.0,587.3 L216.5,587.0 M216.5,587.0 L217.0,586.6 M217.0,586.6 L217.5,586.3 M217.5,586.3 L218.0,586.1 M218.0,586.1 L218.5,585.8 M218.5,585.8 L219.0,585.6 M219.0,585.6 L219.5,585.4 M219.5,585.4 L220.0,585.2 M220.0,585.2 L220.5,585.1 M220.5,585.1 L221.0,585.0 M221.0,585.0 L221.5,584.9 M221.5,584.9 L222.0,584.9 M222.0,584.9 L222.5,584.9 M222.5,584.9 L223.0,584.9 M223.0,584.9 L223.5,585.0 M223.5,585.0 L224.0,585.1 M224.0,585.1 L224.5,585.3 M224.5,585.3 L225.0,585.4 M225.0,585.4 L225.5,585.6 M225.5,585.6 L226.0,585.9 M226.0,585.9 L226.5,586.1 M226.5,586.1 L227.0,586.4 M227.0,586.4 L227.5,586.7 M227.5,586.7 L228.0,587.1 M228.0,587.1 L228.5,587.4 M228.5,587.4 L229.0,587.8 M229.0,587.8 L229.5,588.2 M229.5,588.2 L230.0,588.6 M230.0,588.6 L230.5,589.1 M230.5,589.1 L231.0,589.5 M231.0,589.5 L231.5,590.0 M231.5,590.0 L232.0,590.5 M232.0,590.5 L232.5,591.0 M232.5,591.0 L233.0,591.5 M233.0,591.5 L233.5,592.0 M233.5,592.0 L234.0,592.5 M234.0,592.5 L234.5,593.0 M234.5,593.0 L235.0,593.5 M235.0,593.5 L235.5,594.0 M235.5,594.0 L236.0,594.5 M236.0,594.5 L236.5,595.0 M236.5,595.0 L237.0,595.5 M237.0,595.5 L237.5,595.9 M237.5,595.9 L238.0,596.4 M238.0,596.4 L238.5,596.8 M238.5,596.8 L239.0,597.2 M239.0,597.2 L239.5,597.6 M239.5,597.6 L240.0,597.9 M240.0,597.9 L240.5,598.3 M240.5,598.3 L241.0,598.6 M241.0,598.6 L241.5,598.9 M241.5,598.9 L242.0,599.1 M242.0,599.1 L242.5,599.4 M242.5,599.4 L243.0,599.6 M243.0,599.6 L243.5,599.7 M243.5,599.7 L244.0,599.9 M244.0,599.9 L244.5,600.0 M244.5,600.0 L245.0,600.1 M245.0,600.1 L245.5,600.1 M245.5,600.1 L246.0,600.1 M246.0,600.1 L246.5,600.1 M246.5,600.1 L247.0,600.0 M247.0,600.0 L247.5,599.9 M247.5,599.9 L248.0,599.8 M248.0,599.8 L248.5,599.6 M248.5,599.6 L249.0,599.4 M249.0,599.4 L249.5,599.2 M249.5,599.2 L250.0,598.9 M250.0,598.9 L250.5,598.7 M250.5,598.7 L251.0,598.4 M251.0,598.4 L251.5,598.0" stroke="#2b9cc4" stroke-width="2.3" fill="none" stroke-linecap="round"/>
<path d="M251.5,598.0 L252.0,597.7 M252.0,597.7 L252.5,597.3 M252.5,597.3 L253.0,596.9 M253.0,596.9 L253.5,596.4 M253.5,596.4 L254.0,596.0 M254.0,596.0 L254.5,595.5 M254.5,595.5 L255.0,595.1 M255.0,595.1 L255.5,594.6 M255.5,594.6 L256.0,594.1 M256.0,594.1 L256.5,593.6 M256.5,593.6 L257.0,593.1 M257.0,593.1 L257.5,592.6 M257.5,592.6 L258.0,592.1 M258.0,592.1 L258.5,591.6 M258.5,591.6 L259.0,591.1 M259.0,591.1 L259.5,590.6 M259.5,590.6 L260.0,590.1 M260.0,590.1 L260.5,589.6 M260.5,589.6 L261.0,589.2 M261.0,589.2 L261.5,588.7 M261.5,588.7 L262.0,588.3 M262.0,588.3 L262.5,587.9 M262.5,587.9 L263.0,587.5 M263.0,587.5 L263.5,587.1 M263.5,587.1 L264.0,586.8 M264.0,586.8 L264.5,586.5 M264.5,586.5 L265.0,586.2 M265.0,586.2 L265.5,585.9 M265.5,585.9 L266.0,585.7 M266.0,585.7 L266.5,585.5 M266.5,585.5 L267.0,585.3 M267.0,585.3 L267.5,585.1 M267.5,585.1 L268.0,585.0 M268.0,585.0 L268.5,585.0 M268.5,585.0 L269.0,584.9 M269.0,584.9 L269.5,584.9 M269.5,584.9 L270.0,584.9 M270.0,584.9 L270.5,585.0 M270.5,585.0 L271.0,585.1 M271.0,585.1 L271.5,585.2 M271.5,585.2 L272.0,585.4 M272.0,585.4 L272.5,585.5 M272.5,585.5 L273.0,585.8 M273.0,585.8 L273.5,586.0 M273.5,586.0 L274.0,586.3 M274.0,586.3 L274.5,586.6 M274.5,586.6 L275.0,586.9 M275.0,586.9 L275.5,587.3 M275.5,587.3 L276.0,587.6 M276.0,587.6 L276.5,588.0 M276.5,588.0 L277.0,588.5 M277.0,588.5 L277.5,588.9 M277.5,588.9 L278.0,589.4 M278.0,589.4 L278.5,589.8 M278.5,589.8 L279.0,590.3 M279.0,590.3 L279.5,590.8 M279.5,590.8 L280.0,591.3 M280.0,591.3 L280.5,591.8 M280.5,591.8 L281.0,592.3 M281.0,592.3 L281.5,592.8 M281.5,592.8 L282.0,593.3 M282.0,593.3 L282.5,593.8 M282.5,593.8 L283.0,594.3 M283.0,594.3 L283.5,594.8 M283.5,594.8 L284.0,595.3 M284.0,595.3 L284.5,595.7 M284.5,595.7 L285.0,596.2 M285.0,596.2 L285.5,596.6 M285.5,596.6 L286.0,597.0 M286.0,597.0 L286.5,597.4 M286.5,597.4 L287.0,597.8 M287.0,597.8 L287.5,598.2 M287.5,598.2 L288.0,598.5 M288.0,598.5 L288.5,598.8 M288.5,598.8 L289.0,599.0 M289.0,599.0 L289.5,599.3 M289.5,599.3 L290.0,599.5 M290.0,599.5 L290.5,599.7 M290.5,599.7 L291.0,599.8 M291.0,599.8 L291.5,599.9 M291.5,599.9 L292.0,600.0 M292.0,600.0 L292.5,600.1 M292.5,600.1 L293.0,600.1 M293.0,600.1 L293.5,600.1 M293.5,600.1 L294.0,600.0 M294.0,600.0 L294.5,599.9 M294.5,599.9 L295.0,599.8 M295.0,599.8 L295.5,599.7 M295.5,599.7 L296.0,599.5 M296.0,599.5 L296.5,599.3 M296.5,599.3 L297.0,599.0 M297.0,599.0 L297.5,598.8 M297.5,598.8 L298.0,598.5 M298.0,598.5 L298.5,598.2 M298.5,598.2 L299.0,597.8 M299.0,597.8 L299.5,597.4 M299.5,597.4 L300.0,597.0 M300.0,597.0 L300.5,596.6 M300.5,596.6 L301.0,596.2 M301.0,596.2 L301.5,595.7 M301.5,595.7 L302.0,595.3 M302.0,595.3 L302.5,594.8 M302.5,594.8 L303.0,594.3 M303.0,594.3 L303.5,593.8 M303.5,593.8 L304.0,593.3 M304.0,593.3 L304.5,592.8 M304.5,592.8 L305.0,592.3 M305.0,592.3 L305.5,591.8 M305.5,591.8 L306.0,591.3 M306.0,591.3 L306.5,590.8 M306.5,590.8 L307.0,590.3 M307.0,590.3 L307.5,589.8 M307.5,589.8 L308.0,589.4 M308.0,589.4 L308.5,588.9 M308.5,588.9 L309.0,588.5 M309.0,588.5 L309.5,588.0 M309.5,588.0 L310.0,587.6 M310.0,587.6 L310.5,587.3 M310.5,587.3 L311.0,586.9 M311.0,586.9 L311.5,586.6 M311.5,586.6 L312.0,586.3 M312.0,586.3 L312.5,586.0 M312.5,586.0 L313.0,585.8 M313.0,585.8 L313.5,585.5 M313.5,585.5 L314.0,585.4 M314.0,585.4 L314.5,585.2 M314.5,585.2 L315.0,585.1 M315.0,585.1 L315.5,585.0 M315.5,585.0 L316.0,584.9 M316.0,584.9 L316.5,584.9 M316.5,584.9 L317.0,584.9 M317.0,584.9 L317.5,585.0 M317.5,585.0 L318.0,585.0 M318.0,585.0 L318.5,585.1 M318.5,585.1 L319.0,585.3 M319.0,585.3 L319.5,585.5 M319.5,585.5 L320.0,585.7 M320.0,585.7 L320.5,585.9 M320.5,585.9 L321.0,586.2 M321.0,586.2 L321.5,586.5 M321.5,586.5 L322.0,586.8 M322.0,586.8 L322.5,587.1 M322.5,587.1 L323.0,587.5 M323.0,587.5 L323.5,587.9 M323.5,587.9 L324.0,588.3 M324.0,588.3 L324.5,588.7 M324.5,588.7 L325.0,589.2 M325.0,589.2 L325.5,589.7 M325.5,589.7 L326.0,590.1 M326.0,590.1 L326.5,590.6 M326.5,590.6 L327.0,591.1 M327.0,591.1 L327.5,591.6 M327.5,591.6 L328.0,592.1 M328.0,592.1 L328.5,592.6 M328.5,592.6 L329.0,593.1 M329.0,593.1 L329.5,593.5 M329.5,593.5 L330.0,594.0 M330.0,594.0 L330.5,594.4 M330.5,594.4 L331.0,594.9 M331.0,594.9 L331.5,595.3 M331.5,595.3 L332.0,595.7 M332.0,595.7 L332.5,596.0 M332.5,596.0 L333.0,596.4 M333.0,596.4 L333.5,596.7 M333.5,596.7 L334.0,597.0 M334.0,597.0 L334.5,597.3" stroke="#3d6db0" stroke-width="2.3" fill="none" stroke-linecap="round"/>
<path d="M334.5,597.3 L335.0,597.5 M335.0,597.5 L335.5,597.8 M335.5,597.8 L336.0,598.0 M336.0,598.0 L336.5,598.1 M336.5,598.1 L337.0,598.3 M337.0,598.3 L337.5,598.4 M337.5,598.4 L338.0,598.5 M338.0,598.5 L338.5,598.5 M338.5,598.5 L339.0,598.6 M339.0,598.6 L339.5,598.6 M339.5,598.6 L340.0,598.5 M340.0,598.5 L340.5,598.5 M340.5,598.5 L341.0,598.4 M341.0,598.4 L341.5,598.3 M341.5,598.3 L342.0,598.1 M342.0,598.1 L342.5,598.0 M342.5,598.0 L343.0,597.8 M343.0,597.8 L343.5,597.6 M343.5,597.6 L344.0,597.4 M344.0,597.4 L344.5,597.2 M344.5,597.2 L345.0,596.9 M345.0,596.9 L345.5,596.6 M345.5,596.6 L346.0,596.4 M346.0,596.4 L346.5,596.1 M346.5,596.1 L347.0,595.8 M347.0,595.8 L347.5,595.5 M347.5,595.5 L348.0,595.1 M348.0,595.1 L348.5,594.8 M348.5,594.8 L349.0,594.5 M349.0,594.5 L349.5,594.1 M349.5,594.1 L350.0,593.8 M350.0,593.8 L350.5,593.5 M350.5,593.5 L351.0,593.1 M351.0,593.1 L351.5,592.8 M351.5,592.8 L352.0,592.5 M352.0,592.5 L352.5,592.2 M352.5,592.2 L353.0,591.9 M353.0,591.9 L353.5,591.6 M353.5,591.6 L354.0,591.3 M354.0,591.3 L354.5,591.0 M354.5,591.0 L355.0,590.8 M355.0,590.8 L355.5,590.5 M355.5,590.5 L356.0,590.3 M356.0,590.3 L356.5,590.1 M356.5,590.1 L357.0,589.9 M357.0,589.9 L357.5,589.7 M357.5,589.7 L358.0,589.5 M358.0,589.5 L358.5,589.4 M358.5,589.4 L359.0,589.3 M359.0,589.3 L359.5,589.2 M359.5,589.2 L360.0,589.1 M360.0,589.1 L360.5,589.0 M360.5,589.0 L361.0,588.9 M361.0,588.9 L361.5,588.9 M361.5,588.9 L362.0,588.9 M362.0,588.9 L362.5,588.9 M362.5,588.9 L363.0,588.9 M363.0,588.9 L363.5,588.9 M363.5,588.9 L364.0,589.0 M364.0,589.0 L364.5,589.1 M364.5,589.1 L365.0,589.1 M365.0,589.1 L365.5,589.2 M365.5,589.2 L366.0,589.3 M366.0,589.3 L366.5,589.5 M366.5,589.5 L367.0,589.6 M367.0,589.6 L367.5,589.7 M367.5,589.7 L368.0,589.9 M368.0,589.9 L368.5,590.0 M368.5,590.0 L369.0,590.2 M369.0,590.2 L369.5,590.4 M369.5,590.4 L370.0,590.5 M370.0,590.5 L370.5,590.7 M370.5,590.7 L371.0,590.9 M371.0,590.9 L371.5,591.1 M371.5,591.1 L372.0,591.3 M372.0,591.3 L372.5,591.5 M372.5,591.5 L373.0,591.6 M373.0,591.6 L373.5,591.8 M373.5,591.8 L374.0,592.0 M374.0,592.0 L374.5,592.1 M374.5,592.1 L375.0,592.3 M375.0,592.3 L375.5,592.5 M375.5,592.5 L376.0,592.6 M376.0,592.6 L376.5,592.8 M376.5,592.8 L377.0,592.9 M377.0,592.9 L377.5,593.0 M377.5,593.0 L378.0,593.1 M378.0,593.1 L378.5,593.2 M378.5,593.2 L379.0,593.3 M379.0,593.3 L379.5,593.4 M379.5,593.4 L380.0,593.5 M380.0,593.5 L380.5,593.6 M380.5,593.6 L381.0,593.6 M381.0,593.6 L381.5,593.7 M381.5,593.7 L382.0,593.7 M382.0,593.7 L382.5,593.7 M382.5,593.7 L383.0,593.8 M383.0,593.8 L383.5,593.8 M383.5,593.8 L384.0,593.8 M384.0,593.8 L384.5,593.8 M384.5,593.8 L385.0,593.7 M385.0,593.7 L385.5,593.7 M385.5,593.7 L386.0,593.7 M386.0,593.7 L386.5,593.6 M386.5,593.6 L387.0,593.6 M387.0,593.6 L387.5,593.5 M387.5,593.5 L388.0,593.5 M388.0,593.5 L388.5,593.4 M388.5,593.4 L389.0,593.4 M389.0,593.4 L389.5,593.3 M389.5,593.3 L390.0,593.3" stroke="#6a90c8" stroke-width="2.3" fill="none" stroke-linecap="round"/>
<path d="M107.0,585.4 L107.5,585.6 M107.5,585.6 L108.0,585.9 M108.0,585.9 L108.5,586.1 M108.5,586.1 L109.0,586.4 M109.0,586.4 L109.5,586.7 M109.5,586.7 L110.0,587.1 M110.0,587.1 L110.5,587.4 M110.5,587.4 L111.0,587.8 M111.0,587.8 L111.5,588.2 M111.5,588.2 L112.0,588.6 M112.0,588.6 L112.5,589.1 M112.5,589.1 L113.0,589.5 M113.0,589.5 L113.5,590.0 M113.5,590.0 L114.0,590.5 M114.0,590.5 L114.5,591.0 M114.5,591.0 L115.0,591.5 M115.0,591.5 L115.5,592.0 M115.5,592.0 L116.0,592.5 M116.0,592.5 L116.5,593.0 M116.5,593.0 L117.0,593.5 M117.0,593.5 L117.5,594.0 M117.5,594.0 L118.0,594.5 M118.0,594.5 L118.5,595.0 M118.5,595.0 L119.0,595.5 M119.0,595.5 L119.5,595.9 M119.5,595.9 L120.0,596.4 M120.0,596.4 L120.5,596.8 M120.5,596.8 L121.0,597.2 M121.0,597.2 L121.5,597.6 M121.5,597.6 L122.0,597.9 M122.0,597.9 L122.5,598.3 M122.5,598.3 L123.0,598.6 M123.0,598.6 L123.5,598.9 M123.5,598.9 L124.0,599.1 M124.0,599.1 L124.5,599.4 M124.5,599.4 L125.0,599.6 M125.0,599.6 L125.5,599.7 M125.5,599.7 L126.0,599.9 M126.0,599.9 L126.5,600.0 M126.5,600.0 L127.0,600.1 M127.0,600.1 L127.5,600.1 M127.5,600.1 L128.0,600.1 M128.0,600.1 L128.5,600.1 M128.5,600.1 L129.0,600.0 M129.0,600.0 L129.5,599.9 M129.5,599.9 L130.0,599.8 M130.0,599.8 L130.5,599.6 M130.5,599.6 L131.0,599.4 M131.0,599.4 L131.5,599.2 M131.5,599.2 L132.0,598.9 M132.0,598.9 L132.5,598.7 M132.5,598.7 L133.0,598.4 M133.0,598.4 L133.5,598.0 M133.5,598.0 L134.0,597.7 M134.0,597.7 L134.5,597.3 M134.5,597.3 L135.0,596.9 M135.0,596.9 L135.5,596.4 M135.5,596.4 L136.0,596.0 M136.0,596.0 L136.5,595.5 M136.5,595.5 L137.0,595.1 M137.0,595.1 L137.5,594.6 M137.5,594.6 L138.0,594.1 M138.0,594.1 L138.5,593.6 M138.5,593.6 L139.0,593.1 M139.0,593.1 L139.5,592.6 M139.5,592.6 L140.0,592.1 M140.0,592.1 L140.5,591.6 M140.5,591.6 L141.0,591.1 M141.0,591.1 L141.5,590.6 M141.5,590.6 L142.0,590.1 M142.0,590.1 L142.5,589.6 M142.5,589.6 L143.0,589.2 M143.0,589.2 L143.5,588.7 M143.5,588.7 L144.0,588.3 M144.0,588.3 L144.5,587.9 M144.5,587.9 L145.0,587.5 M145.0,587.5 L145.5,587.1 M145.5,587.1 L146.0,586.8 M146.0,586.8 L146.5,586.5 M146.5,586.5 L147.0,586.2 M147.0,586.2 L147.5,585.9 M147.5,585.9 L148.0,585.7 M148.0,585.7 L148.5,585.5 M148.5,585.5 L149.0,585.3 M149.0,585.3 L149.5,585.1 M149.5,585.1 L150.0,585.0 M150.0,585.0 L150.5,585.0 M150.5,585.0 L151.0,584.9 M151.0,584.9 L151.5,584.9 M151.5,584.9 L152.0,584.9 M152.0,584.9 L152.5,585.0 M152.5,585.0 L153.0,585.1 M153.0,585.1 L153.5,585.2 M153.5,585.2 L154.0,585.4 M154.0,585.4 L154.5,585.5 M154.5,585.5 L155.0,585.8 M155.0,585.8 L155.5,586.0 M155.5,586.0 L156.0,586.3 M156.0,586.3 L156.5,586.6 M156.5,586.6 L157.0,586.9 M157.0,586.9 L157.5,587.3 M157.5,587.3 L158.0,587.6 M158.0,587.6 L158.5,588.0 M158.5,588.0 L159.0,588.5 M159.0,588.5 L159.5,588.9 M159.5,588.9 L160.0,589.4 M160.0,589.4 L160.5,589.8 M160.5,589.8 L161.0,590.3 M161.0,590.3 L161.5,590.8 M161.5,590.8 L162.0,591.3 M162.0,591.3 L162.5,591.8 M162.5,591.8 L163.0,592.3 M163.0,592.3 L163.5,592.8 M163.5,592.8 L164.0,593.3 M164.0,593.3 L164.5,593.8 M164.5,593.8 L165.0,594.3 M165.0,594.3 L165.5,594.8 M165.5,594.8 L166.0,595.3 M166.0,595.3 L166.5,595.7 M166.5,595.7 L167.0,596.2 M167.0,596.2 L167.5,596.6 M167.5,596.6 L168.0,597.0 M168.0,597.0 L168.5,597.4 M168.5,597.4 L169.0,597.8 M169.0,597.8 L169.5,598.2 M169.5,598.2 L170.0,598.5 M170.0,598.5 L170.5,598.8 M170.5,598.8 L171.0,599.0 M171.0,599.0 L171.5,599.3 M171.5,599.3 L172.0,599.5 M172.0,599.5 L172.5,599.7 M172.5,599.7 L173.0,599.8 M173.0,599.8 L173.5,599.9 M173.5,599.9 L174.0,600.0 M174.0,600.0 L174.5,600.1 M174.5,600.1 L175.0,600.1 M175.0,600.1 L175.5,600.1 M175.5,600.1 L176.0,600.0 M176.0,600.0 L176.5,599.9 M176.5,599.9 L177.0,599.8 M177.0,599.8 L177.5,599.7 M177.5,599.7 L178.0,599.5 M178.0,599.5 L178.5,599.3 M178.5,599.3 L179.0,599.0 M179.0,599.0 L179.5,598.8 M179.5,598.8 L180.0,598.5 M180.0,598.5 L180.5,598.2 M180.5,598.2 L181.0,597.8 M181.0,597.8 L181.5,597.4 M181.5,597.4 L182.0,597.0 M182.0,597.0 L182.5,596.6 M182.5,596.6 L183.0,596.2 M183.0,596.2 L183.5,595.7 M183.5,595.7 L184.0,595.3 M184.0,595.3 L184.5,594.8 M184.5,594.8 L185.0,594.3 M185.0,594.3 L185.5,593.8 M185.5,593.8 L186.0,593.3 M186.0,593.3 L186.5,592.8 M186.5,592.8 L187.0,592.3 M187.0,592.3 L187.5,591.8 M187.5,591.8 L188.0,591.3 M188.0,591.3 L188.5,590.8 M188.5,590.8 L189.0,590.3 M189.0,590.3 L189.5,589.8 M189.5,589.8 L190.0,589.4 M190.0,589.4 L190.5,588.9 M190.5,588.9 L191.0,588.5 M191.0,588.5 L191.5,588.0 M191.5,588.0 L192.0,587.6 M192.0,587.6 L192.5,587.3 M192.5,587.3 L193.0,586.9 M193.0,586.9 L193.5,586.6 M193.5,586.6 L194.0,586.3 M194.0,586.3 L194.5,586.0 M194.5,586.0 L195.0,585.8 M195.0,585.8 L195.5,585.5 M195.5,585.5 L196.0,585.4 M196.0,585.4 L196.5,585.2 M196.5,585.2 L197.0,585.1 M197.0,585.1 L197.5,585.0 M197.5,585.0 L198.0,584.9 M198.0,584.9 L198.5,584.9 M198.5,584.9 L199.0,584.9 M199.0,584.9 L199.5,585.0" stroke="#3cb8dc" stroke-width="2.3" fill="none" stroke-linecap="round"/>
<path d="M199.5,585.0 L200.0,585.0 M200.0,585.0 L200.5,585.1 M200.5,585.1 L201.0,585.3 M201.0,585.3 L201.5,585.5 M201.5,585.5 L202.0,585.7 M202.0,585.7 L202.5,585.9 M202.5,585.9 L203.0,586.2 M203.0,586.2 L203.5,586.5 M203.5,586.5 L204.0,586.8 M204.0,586.8 L204.5,587.1 M204.5,587.1 L205.0,587.5 M205.0,587.5 L205.5,587.9 M205.5,587.9 L206.0,588.3 M206.0,588.3 L206.5,588.7 M206.5,588.7 L207.0,589.2 M207.0,589.2 L207.5,589.6 M207.5,589.6 L208.0,590.1 M208.0,590.1 L208.5,590.6 M208.5,590.6 L209.0,591.1 M209.0,591.1 L209.5,591.6 M209.5,591.6 L210.0,592.1 M210.0,592.1 L210.5,592.6 M210.5,592.6 L211.0,593.1 M211.0,593.1 L211.5,593.6 M211.5,593.6 L212.0,594.1 M212.0,594.1 L212.5,594.6 M212.5,594.6 L213.0,595.1 M213.0,595.1 L213.5,595.5 M213.5,595.5 L214.0,596.0 M214.0,596.0 L214.5,596.4 M214.5,596.4 L215.0,596.9 M215.0,596.9 L215.5,597.3 M215.5,597.3 L216.0,597.7 M216.0,597.7 L216.5,598.0 M216.5,598.0 L217.0,598.4 M217.0,598.4 L217.5,598.7 M217.5,598.7 L218.0,598.9 M218.0,598.9 L218.5,599.2 M218.5,599.2 L219.0,599.4 M219.0,599.4 L219.5,599.6 M219.5,599.6 L220.0,599.8 M220.0,599.8 L220.5,599.9 M220.5,599.9 L221.0,600.0 M221.0,600.0 L221.5,600.1 M221.5,600.1 L222.0,600.1 M222.0,600.1 L222.5,600.1 M222.5,600.1 L223.0,600.1 M223.0,600.1 L223.5,600.0 M223.5,600.0 L224.0,599.9 M224.0,599.9 L224.5,599.7 M224.5,599.7 L225.0,599.6 M225.0,599.6 L225.5,599.4 M225.5,599.4 L226.0,599.1 M226.0,599.1 L226.5,598.9 M226.5,598.9 L227.0,598.6 M227.0,598.6 L227.5,598.3 M227.5,598.3 L228.0,597.9 M228.0,597.9 L228.5,597.6 M228.5,597.6 L229.0,597.2 M229.0,597.2 L229.5,596.8 M229.5,596.8 L230.0,596.4 M230.0,596.4 L230.5,595.9 M230.5,595.9 L231.0,595.5 M231.0,595.5 L231.5,595.0 M231.5,595.0 L232.0,594.5 M232.0,594.5 L232.5,594.0 M232.5,594.0 L233.0,593.5 M233.0,593.5 L233.5,593.0 M233.5,593.0 L234.0,592.5 M234.0,592.5 L234.5,592.0 M234.5,592.0 L235.0,591.5 M235.0,591.5 L235.5,591.0 M235.5,591.0 L236.0,590.5 M236.0,590.5 L236.5,590.0 M236.5,590.0 L237.0,589.5 M237.0,589.5 L237.5,589.1 M237.5,589.1 L238.0,588.6 M238.0,588.6 L238.5,588.2 M238.5,588.2 L239.0,587.8 M239.0,587.8 L239.5,587.4 M239.5,587.4 L240.0,587.1 M240.0,587.1 L240.5,586.7 M240.5,586.7 L241.0,586.4 M241.0,586.4 L241.5,586.1 M241.5,586.1 L242.0,585.9 M242.0,585.9 L242.5,585.6 M242.5,585.6 L243.0,585.4 M243.0,585.4 L243.5,585.3 M243.5,585.3 L244.0,585.1 M244.0,585.1 L244.5,585.0 M244.5,585.0 L245.0,584.9 M245.0,584.9 L245.5,584.9 M245.5,584.9 L246.0,584.9 M246.0,584.9 L246.5,584.9 M246.5,584.9 L247.0,585.0 M247.0,585.0 L247.5,585.1 M247.5,585.1 L248.0,585.2 M248.0,585.2 L248.5,585.4 M248.5,585.4 L249.0,585.6 M249.0,585.6 L249.5,585.8 M249.5,585.8 L250.0,586.1 M250.0,586.1 L250.5,586.3 M250.5,586.3 L251.0,586.6 M251.0,586.6 L251.5,587.0 M251.5,587.0 L252.0,587.3 M252.0,587.3 L252.5,587.7 M252.5,587.7 L253.0,588.1 M253.0,588.1 L253.5,588.6 M253.5,588.6 L254.0,589.0 M254.0,589.0 L254.5,589.5 M254.5,589.5 L255.0,589.9 M255.0,589.9 L255.5,590.4 M255.5,590.4 L256.0,590.9 M256.0,590.9 L256.5,591.4 M256.5,591.4 L257.0,591.9 M257.0,591.9 L257.5,592.4 M257.5,592.4 L258.0,592.9 M258.0,592.9 L258.5,593.4 M258.5,593.4 L259.0,593.9 M259.0,593.9 L259.5,594.4 M259.5,594.4 L260.0,594.9 M260.0,594.9 L260.5,595.4 M260.5,595.4 L261.0,595.8 M261.0,595.8 L261.5,596.3 M261.5,596.3 L262.0,596.7 M262.0,596.7 L262.5,597.1 M262.5,597.1 L263.0,597.5 M263.0,597.5 L263.5,597.9 M263.5,597.9 L264.0,598.2 M264.0,598.2 L264.5,598.5 M264.5,598.5 L265.0,598.8 M265.0,598.8 L265.5,599.1 M265.5,599.1 L266.0,599.3 M266.0,599.3 L266.5,599.5 M266.5,599.5 L267.0,599.7 M267.0,599.7 L267.5,599.9 M267.5,599.9 L268.0,600.0 M268.0,600.0 L268.5,600.0 M268.5,600.0 L269.0,600.1 M269.0,600.1 L269.5,600.1 M269.5,600.1 L270.0,600.1 M270.0,600.1 L270.5,600.0 M270.5,600.0 L271.0,599.9 M271.0,599.9 L271.5,599.8 M271.5,599.8 L272.0,599.6 M272.0,599.6 L272.5,599.5 M272.5,599.5 L273.0,599.2 M273.0,599.2 L273.5,599.0 M273.5,599.0 L274.0,598.7 M274.0,598.7 L274.5,598.4 M274.5,598.4 L275.0,598.1 M275.0,598.1 L275.5,597.7 M275.5,597.7 L276.0,597.4 M276.0,597.4 L276.5,597.0 M276.5,597.0 L277.0,596.5 M277.0,596.5 L277.5,596.1 M277.5,596.1 L278.0,595.6 M278.0,595.6 L278.5,595.2 M278.5,595.2 L279.0,594.7 M279.0,594.7 L279.5,594.2 M279.5,594.2 L280.0,593.7 M280.0,593.7 L280.5,593.2 M280.5,593.2 L281.0,592.7 M281.0,592.7 L281.5,592.2 M281.5,592.2 L282.0,591.7 M282.0,591.7 L282.5,591.2 M282.5,591.2 L283.0,590.7 M283.0,590.7 L283.5,590.2 M283.5,590.2 L284.0,589.7 M284.0,589.7 L284.5,589.3 M284.5,589.3 L285.0,588.8 M285.0,588.8 L285.5,588.4 M285.5,588.4 L286.0,588.0 M286.0,588.0 L286.5,587.6 M286.5,587.6 L287.0,587.2 M287.0,587.2 L287.5,586.8 M287.5,586.8 L288.0,586.5 M288.0,586.5 L288.5,586.2 M288.5,586.2 L289.0,586.0 M289.0,586.0 L289.5,585.7 M289.5,585.7 L290.0,585.5 M290.0,585.5 L290.5,585.3 M290.5,585.3 L291.0,585.2 M291.0,585.2 L291.5,585.1 M291.5,585.1 L292.0,585.0 M292.0,585.0 L292.5,584.9 M292.5,584.9 L293.0,584.9 M293.0,584.9 L293.5,584.9 M293.5,584.9 L294.0,585.0 M294.0,585.0 L294.5,585.1 M294.5,585.1 L295.0,585.2 M295.0,585.2 L295.5,585.3 M295.5,585.3 L296.0,585.5 M296.0,585.5 L296.5,585.7 M296.5,585.7 L297.0,586.0 M297.0,586.0 L297.5,586.2 M297.5,586.2 L298.0,586.5 M298.0,586.5 L298.5,586.8 M298.5,586.8 L299.0,587.2 M299.0,587.2 L299.5,587.6 M299.5,587.6 L300.0,588.0 M300.0,588.0 L300.5,588.4 M300.5,588.4 L301.0,588.8 M301.0,588.8 L301.5,589.3 M301.5,589.3 L302.0,589.7 M302.0,589.7 L302.5,590.2 M302.5,590.2 L303.0,590.7 M303.0,590.7 L303.5,591.2 M303.5,591.2 L304.0,591.7 M304.0,591.7 L304.5,592.2 M304.5,592.2 L305.0,592.7 M305.0,592.7 L305.5,593.2 M305.5,593.2 L306.0,593.7 M306.0,593.7 L306.5,594.2 M306.5,594.2 L307.0,594.7 M307.0,594.7 L307.5,595.2 M307.5,595.2 L308.0,595.6 M308.0,595.6 L308.5,596.1 M308.5,596.1 L309.0,596.5 M309.0,596.5 L309.5,597.0 M309.5,597.0 L310.0,597.4 M310.0,597.4 L310.5,597.7 M310.5,597.7 L311.0,598.1 M311.0,598.1 L311.5,598.4 M311.5,598.4 L312.0,598.7 M312.0,598.7 L312.5,599.0 M312.5,599.0 L313.0,599.2 M313.0,599.2 L313.5,599.5 M313.5,599.5 L314.0,599.6 M314.0,599.6 L314.5,599.8 M314.5,599.8 L315.0,599.9 M315.0,599.9 L315.5,600.0 M315.5,600.0 L316.0,600.1 M316.0,600.1 L316.5,600.1 M316.5,600.1 L317.0,600.1 M317.0,600.1 L317.5,600.0 M317.5,600.0 L318.0,600.0 M318.0,600.0 L318.5,599.9 M318.5,599.9 L319.0,599.7 M319.0,599.7 L319.5,599.5 M319.5,599.5 L320.0,599.3 M320.0,599.3 L320.5,599.1 M320.5,599.1 L321.0,598.8 M321.0,598.8 L321.5,598.5 M321.5,598.5 L322.0,598.2 M322.0,598.2 L322.5,597.9 M322.5,597.9 L323.0,597.5 M323.0,597.5 L323.5,597.1 M323.5,597.1 L324.0,596.7 M324.0,596.7 L324.5,596.3 M324.5,596.3 L325.0,595.8 M325.0,595.8 L325.5,595.3 M325.5,595.3 L326.0,594.9 M326.0,594.9 L326.5,594.4 M326.5,594.4 L327.0,593.9 M327.0,593.9 L327.5,593.4 M327.5,593.4 L328.0,592.9 M328.0,592.9 L328.5,592.4 M328.5,592.4 L329.0,591.9 M329.0,591.9 L329.5,591.5 M329.5,591.5 L330.0,591.0 M330.0,591.0 L330.5,590.6 M330.5,590.6 L331.0,590.1 M331.0,590.1 L331.5,589.7 M331.5,589.7 L332.0,589.3 M332.0,589.3 L332.5,589.0 M332.5,589.0 L333.0,588.6 M333.0,588.6 L333.5,588.3 M333.5,588.3 L334.0,588.0 M334.0,588.0 L334.5,587.7 M334.5,587.7 L335.0,587.5 M335.0,587.5 L335.5,587.2 M335.5,587.2 L336.0,587.0 M336.0,587.0 L336.5,586.9 M336.5,586.9 L337.0,586.7 M337.0,586.7 L337.5,586.6 M337.5,586.6 L338.0,586.5 M338.0,586.5 L338.5,586.5 M338.5,586.5 L339.0,586.4 M339.0,586.4 L339.5,586.4 M339.5,586.4 L340.0,586.5 M340.0,586.5 L340.5,586.5 M340.5,586.5 L341.0,586.6 M341.0,586.6 L341.5,586.7 M341.5,586.7 L342.0,586.9 M342.0,586.9 L342.5,587.0 M342.5,587.0 L343.0,587.2 M343.0,587.2 L343.5,587.4 M343.5,587.4 L344.0,587.6 M344.0,587.6 L344.5,587.8 M344.5,587.8 L345.0,588.1 M345.0,588.1 L345.5,588.4 M345.5,588.4 L346.0,588.6 M346.0,588.6 L346.5,588.9 M346.5,588.9 L347.0,589.2 M347.0,589.2 L347.5,589.5 M347.5,589.5 L348.0,589.9 M348.0,589.9 L348.5,590.2 M348.5,590.2 L349.0,590.5 M349.0,590.5 L349.5,590.9" stroke="#262d6e" stroke-width="2.3" fill="none" stroke-linecap="round"/>
<path d="M349.5,590.9 L350.0,591.2 M350.0,591.2 L350.5,591.5 M350.5,591.5 L351.0,591.9 M351.0,591.9 L351.5,592.2 M351.5,592.2 L352.0,592.5 M352.0,592.5 L352.5,592.8 M352.5,592.8 L353.0,593.1 M353.0,593.1 L353.5,593.4 M353.5,593.4 L354.0,593.7 M354.0,593.7 L354.5,594.0 M354.5,594.0 L355.0,594.2 M355.0,594.2 L355.5,594.5 M355.5,594.5 L356.0,594.7 M356.0,594.7 L356.5,594.9 M356.5,594.9 L357.0,595.1 M357.0,595.1 L357.5,595.3 M357.5,595.3 L358.0,595.5 M358.0,595.5 L358.5,595.6 M358.5,595.6 L359.0,595.7 M359.0,595.7 L359.5,595.8 M359.5,595.8 L360.0,595.9 M360.0,595.9 L360.5,596.0 M360.5,596.0 L361.0,596.1 M361.0,596.1 L361.5,596.1 M361.5,596.1 L362.0,596.1 M362.0,596.1 L362.5,596.1 M362.5,596.1 L363.0,596.1 M363.0,596.1 L363.5,596.1 M363.5,596.1 L364.0,596.0 M364.0,596.0 L364.5,595.9 M364.5,595.9 L365.0,595.9 M365.0,595.9 L365.5,595.8 M365.5,595.8 L366.0,595.7 M366.0,595.7 L366.5,595.5 M366.5,595.5 L367.0,595.4 M367.0,595.4 L367.5,595.3 M367.5,595.3 L368.0,595.1 M368.0,595.1 L368.5,595.0 M368.5,595.0 L369.0,594.8 M369.0,594.8 L369.5,594.6 M369.5,594.6 L370.0,594.5 M370.0,594.5 L370.5,594.3 M370.5,594.3 L371.0,594.1 M371.0,594.1 L371.5,593.9 M371.5,593.9 L372.0,593.7 M372.0,593.7 L372.5,593.5 M372.5,593.5 L373.0,593.4 M373.0,593.4 L373.5,593.2 M373.5,593.2 L374.0,593.0 M374.0,593.0 L374.5,592.9 M374.5,592.9 L375.0,592.7 M375.0,592.7 L375.5,592.5 M375.5,592.5 L376.0,592.4 M376.0,592.4 L376.5,592.2 M376.5,592.2 L377.0,592.1 M377.0,592.1 L377.5,592.0 M377.5,592.0 L378.0,591.9 M378.0,591.9 L378.5,591.8 M378.5,591.8 L379.0,591.7 M379.0,591.7 L379.5,591.6 M379.5,591.6 L380.0,591.5 M380.0,591.5 L380.5,591.4 M380.5,591.4 L381.0,591.4 M381.0,591.4 L381.5,591.3 M381.5,591.3 L382.0,591.3 M382.0,591.3 L382.5,591.3 M382.5,591.3 L383.0,591.2 M383.0,591.2 L383.5,591.2 M383.5,591.2 L384.0,591.2 M384.0,591.2 L384.5,591.2 M384.5,591.2 L385.0,591.3 M385.0,591.3 L385.5,591.3 M385.5,591.3 L386.0,591.3 M386.0,591.3 L386.5,591.4 M386.5,591.4 L387.0,591.4 M387.0,591.4 L387.5,591.5 M387.5,591.5 L388.0,591.5 M388.0,591.5 L388.5,591.6 M388.5,591.6 L389.0,591.6 M389.0,591.6 L389.5,591.7 M389.5,591.7 L390.0,591.7" stroke="#4a60a0" stroke-width="2.3" fill="none" stroke-linecap="round"/>
<path d="M111.2,573 V588" stroke="#c93a7c" stroke-width="1.2"/><circle cx="111.2" cy="573" r="2.6" fill="#c93a7c"/>
<path d="M123,576 V588" stroke="#c93a7c" stroke-width="1.2"/><circle cx="123" cy="576" r="2.6" fill="#c93a7c"/>
<path d="M132.8,571 V588" stroke="#c93a7c" stroke-width="1.2"/><circle cx="132.8" cy="571" r="2.6" fill="#c93a7c"/>
<path d="M144.4,572 V588" stroke="#c93a7c" stroke-width="1.2"/><circle cx="144.4" cy="572" r="2.6" fill="#c93a7c"/>
<path d="M153.9,572 V588" stroke="#c93a7c" stroke-width="1.2"/><circle cx="153.9" cy="572" r="2.6" fill="#c93a7c"/>
<path d="M160.4,577.6 V588" stroke="#c93a7c" stroke-width="1.2"/><circle cx="160.4" cy="577.6" r="2.6" fill="#c93a7c"/>
<path d="M267,574 V587" stroke="#e2a9c6" stroke-width="1.2"/><circle cx="267" cy="574" r="2.6" fill="#e2a9c6"/>
<path d="M276.8,572 V587" stroke="#e2a9c6" stroke-width="1.2"/><circle cx="276.8" cy="572" r="2.6" fill="#e2a9c6"/>
<path d="M287,571.5 V587" stroke="#e2a9c6" stroke-width="1.2"/><circle cx="287" cy="571.5" r="2.6" fill="#e2a9c6"/>
<path d="M297.5,574.5 V587" stroke="#e2a9c6" stroke-width="1.2"/><circle cx="297.5" cy="574.5" r="2.6" fill="#e2a9c6"/>
<text x="455.3" y="339.2" font-size="13.6" fill="#111" font-weight="bold" textLength="10.8" lengthAdjust="spacingAndGlyphs" stroke="#111" stroke-width="0.5">d</text>
<text x="594.5" y="338.0" font-size="11.0" fill="#333" textLength="158.7" lengthAdjust="spacingAndGlyphs" stroke="#333" stroke-width="0.4">Physiological improvement</text>
<path d="M546.8,357.4 H561.1" stroke="#3db2dc" stroke-width="2.3"/>
<path d="M647.2,357.4 H661.2" stroke="#c8a1d2" stroke-width="2.3"/>
<path d="M732.6,357.4 H746.6" stroke="#e67565" stroke-width="2.3"/>
<text x="568.0" y="361.1" font-size="11.2" fill="#333" textLength="61.2" lengthAdjust="spacingAndGlyphs" stroke="#333" stroke-width="0.4">Young ISO</text>
<text x="667.4" y="361.1" font-size="11.2" fill="#333" textLength="46.6" lengthAdjust="spacingAndGlyphs" stroke="#333" stroke-width="0.4">Old HET</text>
<text x="752.8" y="361.1" font-size="11.2" fill="#333" textLength="45.0" lengthAdjust="spacingAndGlyphs" stroke="#333" stroke-width="0.4">Old ISO</text>
<g fill="#b4b8c2" opacity="0.75"><circle cx="505.7" cy="407.7" r="0.75"/><circle cx="505.0" cy="409.2" r="0.75"/><circle cx="505.5" cy="386.3" r="0.75"/><circle cx="505.7" cy="396.4" r="0.75"/><circle cx="540.7" cy="401.5" r="0.75"/><circle cx="540.1" cy="400.9" r="0.75"/><circle cx="540.1" cy="399.8" r="0.75"/><circle cx="540.5" cy="399.2" r="0.75"/><circle cx="552.4" cy="405.0" r="0.75"/><circle cx="551.2" cy="423.6" r="0.75"/><circle cx="552.5" cy="413.2" r="0.75"/><circle cx="551.7" cy="403.9" r="0.75"/><circle cx="562.8" cy="406.5" r="0.75"/><circle cx="563.1" cy="413.7" r="0.75"/><circle cx="563.1" cy="394.8" r="0.75"/><circle cx="563.1" cy="408.5" r="0.75"/><circle cx="574.8" cy="410.1" r="0.75"/><circle cx="574.5" cy="417.9" r="0.75"/><circle cx="575.3" cy="414.1" r="0.75"/><circle cx="574.7" cy="398.4" r="0.75"/><circle cx="586.2" cy="429.5" r="0.75"/><circle cx="586.5" cy="410.9" r="0.75"/><circle cx="587.4" cy="409.2" r="0.75"/><circle cx="586.7" cy="397.8" r="0.75"/><circle cx="598.1" cy="421.4" r="0.75"/><circle cx="598.5" cy="403.2" r="0.75"/><circle cx="598.4" cy="427.8" r="0.75"/><circle cx="598.5" cy="403.2" r="0.75"/><circle cx="610.5" cy="423.5" r="0.75"/><circle cx="609.9" cy="418.4" r="0.75"/><circle cx="610.3" cy="422.2" r="0.75"/><circle cx="610.3" cy="426.9" r="0.75"/><circle cx="621.7" cy="413.7" r="0.75"/><circle cx="622.1" cy="427.3" r="0.75"/><circle cx="621.7" cy="411.6" r="0.75"/><circle cx="621.0" cy="419.3" r="0.75"/><circle cx="506.0" cy="409.6" r="0.75"/><circle cx="505.4" cy="399.9" r="0.75"/><circle cx="505.3" cy="391.8" r="0.75"/><circle cx="506.0" cy="399.6" r="0.75"/><circle cx="540.7" cy="396.8" r="0.75"/><circle cx="539.8" cy="384.3" r="0.75"/><circle cx="540.3" cy="375.6" r="0.75"/><circle cx="540.2" cy="393.4" r="0.75"/><circle cx="552.5" cy="393.6" r="0.75"/><circle cx="551.2" cy="406.2" r="0.75"/><circle cx="552.4" cy="398.4" r="0.75"/><circle cx="552.2" cy="378.7" r="0.75"/><circle cx="563.6" cy="404.5" r="0.75"/><circle cx="563.4" cy="390.4" r="0.75"/><circle cx="563.6" cy="417.6" r="0.75"/><circle cx="563.1" cy="406.8" r="0.75"/><circle cx="574.9" cy="395.4" r="0.75"/><circle cx="574.9" cy="405.4" r="0.75"/><circle cx="575.3" cy="393.5" r="0.75"/><circle cx="575.1" cy="402.7" r="0.75"/><circle cx="586.3" cy="419.3" r="0.75"/><circle cx="586.9" cy="414.1" r="0.75"/><circle cx="587.2" cy="423.2" r="0.75"/><circle cx="587.2" cy="400.6" r="0.75"/><circle cx="598.7" cy="417.1" r="0.75"/><circle cx="597.8" cy="434.9" r="0.75"/><circle cx="598.8" cy="419.2" r="0.75"/><circle cx="598.1" cy="417.9" r="0.75"/><circle cx="609.8" cy="433.0" r="0.75"/><circle cx="609.5" cy="431.3" r="0.75"/><circle cx="609.6" cy="429.2" r="0.75"/><circle cx="609.7" cy="432.6" r="0.75"/><circle cx="621.5" cy="428.9" r="0.75"/><circle cx="621.7" cy="421.7" r="0.75"/><circle cx="621.6" cy="440.1" r="0.75"/><circle cx="621.3" cy="432.6" r="0.75"/><circle cx="505.3" cy="469.0" r="0.75"/><circle cx="504.9" cy="466.2" r="0.75"/><circle cx="504.6" cy="441.0" r="0.75"/><circle cx="504.6" cy="443.8" r="0.75"/><circle cx="539.7" cy="448.7" r="0.75"/><circle cx="540.5" cy="451.5" r="0.75"/><circle cx="539.8" cy="435.2" r="0.75"/><circle cx="540.9" cy="429.9" r="0.75"/><circle cx="551.5" cy="437.3" r="0.75"/><circle cx="552.1" cy="423.7" r="0.75"/><circle cx="551.6" cy="424.8" r="0.75"/><circle cx="552.0" cy="441.3" r="0.75"/><circle cx="564.2" cy="427.6" r="0.75"/><circle cx="564.0" cy="423.2" r="0.75"/><circle cx="563.2" cy="414.3" r="0.75"/><circle cx="564.1" cy="437.2" r="0.75"/><circle cx="574.8" cy="417.7" r="0.75"/><circle cx="574.5" cy="408.8" r="0.75"/><circle cx="575.6" cy="419.9" r="0.75"/><circle cx="575.8" cy="416.4" r="0.75"/><circle cx="587.3" cy="409.1" r="0.75"/><circle cx="587.4" cy="411.8" r="0.75"/><circle cx="586.6" cy="411.1" r="0.75"/><circle cx="586.6" cy="403.8" r="0.75"/><circle cx="598.3" cy="413.8" r="0.75"/><circle cx="598.0" cy="423.1" r="0.75"/><circle cx="598.1" cy="420.7" r="0.75"/><circle cx="598.4" cy="418.2" r="0.75"/><circle cx="610.6" cy="397.8" r="0.75"/><circle cx="609.4" cy="422.3" r="0.75"/><circle cx="610.7" cy="408.6" r="0.75"/><circle cx="610.5" cy="413.8" r="0.75"/><circle cx="621.9" cy="398.8" r="0.75"/><circle cx="622.2" cy="407.4" r="0.75"/><circle cx="622.2" cy="409.6" r="0.75"/><circle cx="622.0" cy="398.7" r="0.75"/></g>
<path d="M540.2,372.6 V472.4" stroke="#a5a5a5" stroke-width="0.8"/>
<polygon points="505.3,450.4 540.2,436.1 551.9,429.7 563.5,414.9 575.1,411.7 586.8,407.3 598.4,402.9 610.1,398.5 621.7,394.2 621.7,410.1 610.1,413.7 598.4,417.3 586.8,420.9 575.1,424.5 563.5,426.1 551.9,438.5 540.2,444.1 505.3,457.6" fill="rgb(70,178,226)" fill-opacity="0.33"/>
<polygon points="505.3,393.0 540.2,396.2 551.9,398.5 563.5,400.5 575.1,404.1 586.8,407.3 598.4,410.5 610.1,412.1 621.7,415.3 621.7,425.7 610.1,421.7 598.4,419.3 586.8,416.1 575.1,412.1 563.5,408.5 551.9,405.7 540.2,403.3 505.3,399.3" fill="rgb(218,150,218)" fill-opacity="0.28"/>
<polygon points="505.3,392.2 540.2,391.4 551.9,391.0 563.5,396.2 575.1,400.5 586.8,406.9 598.4,410.9 610.1,415.7 621.7,423.3 621.7,439.3 610.1,430.9 598.4,424.5 586.8,418.9 575.1,410.9 563.5,404.9 551.9,398.9 540.2,399.3 505.3,400.1" fill="rgb(236,120,110)" fill-opacity="0.28"/>
<polyline points="505.3,396.2 540.2,399.7 551.9,402.1 563.5,404.5 575.1,408.1 586.8,411.7 598.4,414.9 610.1,416.9 621.7,420.5" stroke="#c8a1d2" stroke-width="1.25" fill="none" stroke-linejoin="round"/>
<polyline points="505.3,396.2 540.2,395.4 551.9,395.0 563.5,400.5 575.1,405.7 586.8,412.9 598.4,417.7 610.1,423.3 621.7,431.3" stroke="#e67565" stroke-width="1.25" fill="none" stroke-linejoin="round"/>
<polyline points="505.3,454.0 540.2,440.1 551.9,434.1 563.5,420.5 575.1,418.1 586.8,414.1 598.4,410.1 610.1,406.1 621.7,402.1" stroke="#3db2dc" stroke-width="1.25" fill="none" stroke-linejoin="round"/>
<path d="M499.3,372.6 V472.4 H627.0" stroke="#555" stroke-width="1.55" fill="none"/>
<path d="M494.8,472.4 H499.3 M494.8,452.4 H499.3 M494.8,432.5 H499.3 M494.8,412.5 H499.3 M494.8,392.6 H499.3 M494.8,372.6 H499.3 M505.3,472.4 V476.4 M540.2,472.4 V476.4 M551.9,472.4 V476.4 M563.5,472.4 V476.4 M575.1,472.4 V476.4 M586.8,472.4 V476.4 M598.4,472.4 V476.4 M610.1,472.4 V476.4 M621.7,472.4 V476.4 " stroke="#585858" stroke-width="1.3" fill="none"/>
<text x="476.6" y="475.6" font-size="8.6" fill="#333" textLength="12.6" lengthAdjust="spacingAndGlyphs" stroke="#333" stroke-width="0.35">20</text>
<text x="476.6" y="455.6" font-size="8.6" fill="#333" textLength="12.6" lengthAdjust="spacingAndGlyphs" stroke="#333" stroke-width="0.35">25</text>
<text x="476.6" y="435.7" font-size="8.6" fill="#333" textLength="12.6" lengthAdjust="spacingAndGlyphs" stroke="#333" stroke-width="0.35">30</text>
<text x="476.6" y="415.7" font-size="8.6" fill="#333" textLength="12.6" lengthAdjust="spacingAndGlyphs" stroke="#333" stroke-width="0.35">35</text>
<text x="476.6" y="395.8" font-size="8.6" fill="#333" textLength="12.6" lengthAdjust="spacingAndGlyphs" stroke="#333" stroke-width="0.35">40</text>
<text x="476.6" y="375.8" font-size="8.6" fill="#333" textLength="12.6" lengthAdjust="spacingAndGlyphs" stroke="#333" stroke-width="0.35">45</text>
<g fill="#b4b8c2" opacity="0.75"><circle cx="504.7" cy="530.8" r="0.75"/><circle cx="504.7" cy="503.8" r="0.75"/><circle cx="505.5" cy="517.3" r="0.75"/><circle cx="505.0" cy="497.1" r="0.75"/><circle cx="540.3" cy="513.5" r="0.75"/><circle cx="539.7" cy="515.6" r="0.75"/><circle cx="540.5" cy="515.0" r="0.75"/><circle cx="540.9" cy="527.0" r="0.75"/><circle cx="551.8" cy="537.8" r="0.75"/><circle cx="551.5" cy="523.5" r="0.75"/><circle cx="551.8" cy="529.1" r="0.75"/><circle cx="551.6" cy="527.5" r="0.75"/><circle cx="563.5" cy="520.4" r="0.75"/><circle cx="563.6" cy="547.2" r="0.75"/><circle cx="563.3" cy="534.4" r="0.75"/><circle cx="563.0" cy="536.2" r="0.75"/><circle cx="575.4" cy="503.9" r="0.75"/><circle cx="574.7" cy="534.5" r="0.75"/><circle cx="575.5" cy="549.3" r="0.75"/><circle cx="575.7" cy="526.7" r="0.75"/><circle cx="586.6" cy="536.5" r="0.75"/><circle cx="587.5" cy="519.3" r="0.75"/><circle cx="587.1" cy="540.4" r="0.75"/><circle cx="587.1" cy="533.9" r="0.75"/><circle cx="598.4" cy="526.8" r="0.75"/><circle cx="599.0" cy="540.3" r="0.75"/><circle cx="598.2" cy="520.6" r="0.75"/><circle cx="599.0" cy="537.5" r="0.75"/><circle cx="610.2" cy="545.7" r="0.75"/><circle cx="610.6" cy="531.7" r="0.75"/><circle cx="609.7" cy="535.9" r="0.75"/><circle cx="609.8" cy="527.3" r="0.75"/><circle cx="622.3" cy="539.3" r="0.75"/><circle cx="621.4" cy="535.8" r="0.75"/><circle cx="622.3" cy="547.5" r="0.75"/><circle cx="622.0" cy="536.9" r="0.75"/><circle cx="505.5" cy="502.7" r="0.75"/><circle cx="505.4" cy="513.3" r="0.75"/><circle cx="505.3" cy="511.3" r="0.75"/><circle cx="505.9" cy="519.3" r="0.75"/><circle cx="540.7" cy="509.6" r="0.75"/><circle cx="540.5" cy="509.7" r="0.75"/><circle cx="540.6" cy="517.1" r="0.75"/><circle cx="539.6" cy="508.9" r="0.75"/><circle cx="551.5" cy="507.1" r="0.75"/><circle cx="552.4" cy="505.3" r="0.75"/><circle cx="552.4" cy="519.8" r="0.75"/><circle cx="551.5" cy="518.0" r="0.75"/><circle cx="563.4" cy="517.2" r="0.75"/><circle cx="563.8" cy="530.6" r="0.75"/><circle cx="563.0" cy="521.0" r="0.75"/><circle cx="563.7" cy="514.3" r="0.75"/><circle cx="574.5" cy="535.4" r="0.75"/><circle cx="575.5" cy="527.1" r="0.75"/><circle cx="575.6" cy="522.9" r="0.75"/><circle cx="574.7" cy="516.9" r="0.75"/><circle cx="586.6" cy="527.8" r="0.75"/><circle cx="586.1" cy="534.9" r="0.75"/><circle cx="586.1" cy="527.4" r="0.75"/><circle cx="586.6" cy="521.9" r="0.75"/><circle cx="597.9" cy="513.5" r="0.75"/><circle cx="598.2" cy="514.8" r="0.75"/><circle cx="598.8" cy="534.3" r="0.75"/><circle cx="598.8" cy="526.5" r="0.75"/><circle cx="610.6" cy="539.4" r="0.75"/><circle cx="610.3" cy="518.3" r="0.75"/><circle cx="610.3" cy="520.7" r="0.75"/><circle cx="609.8" cy="528.1" r="0.75"/><circle cx="622.2" cy="538.7" r="0.75"/><circle cx="621.2" cy="536.8" r="0.75"/><circle cx="621.7" cy="523.1" r="0.75"/><circle cx="621.2" cy="526.3" r="0.75"/><circle cx="505.4" cy="576.0" r="0.75"/><circle cx="505.2" cy="567.5" r="0.75"/><circle cx="504.8" cy="580.7" r="0.75"/><circle cx="504.7" cy="570.6" r="0.75"/><circle cx="539.7" cy="565.9" r="0.75"/><circle cx="540.4" cy="561.8" r="0.75"/><circle cx="540.8" cy="534.9" r="0.75"/><circle cx="540.9" cy="559.3" r="0.75"/><circle cx="551.5" cy="559.3" r="0.75"/><circle cx="552.0" cy="568.0" r="0.75"/><circle cx="552.2" cy="546.7" r="0.75"/><circle cx="551.5" cy="546.9" r="0.75"/><circle cx="562.8" cy="541.3" r="0.75"/><circle cx="562.8" cy="556.2" r="0.75"/><circle cx="563.8" cy="547.4" r="0.75"/><circle cx="563.1" cy="553.4" r="0.75"/><circle cx="574.8" cy="550.9" r="0.75"/><circle cx="574.7" cy="549.6" r="0.75"/><circle cx="574.9" cy="536.3" r="0.75"/><circle cx="575.3" cy="544.9" r="0.75"/><circle cx="587.4" cy="544.6" r="0.75"/><circle cx="587.1" cy="559.1" r="0.75"/><circle cx="586.9" cy="530.1" r="0.75"/><circle cx="586.2" cy="544.4" r="0.75"/><circle cx="598.0" cy="525.6" r="0.75"/><circle cx="597.9" cy="540.6" r="0.75"/><circle cx="598.4" cy="538.0" r="0.75"/><circle cx="599.0" cy="527.1" r="0.75"/><circle cx="610.7" cy="523.7" r="0.75"/><circle cx="609.9" cy="524.7" r="0.75"/><circle cx="609.5" cy="543.0" r="0.75"/><circle cx="609.8" cy="531.1" r="0.75"/><circle cx="621.0" cy="531.9" r="0.75"/><circle cx="621.6" cy="513.3" r="0.75"/><circle cx="621.3" cy="515.8" r="0.75"/><circle cx="621.8" cy="530.2" r="0.75"/></g>
<path d="M540.2,485.1 V585.2" stroke="#a5a5a5" stroke-width="0.8"/>
<polygon points="505.3,565.4 540.2,556.3 551.9,553.4 563.5,545.8 575.1,540.5 586.8,533.8 598.4,529.0 610.1,522.7 621.7,517.4 621.7,531.8 610.1,536.2 598.4,541.4 586.8,546.2 575.1,552.0 563.5,556.3 551.9,563.0 540.2,565.0 505.3,573.1" fill="rgb(70,178,226)" fill-opacity="0.33"/>
<polygon points="505.3,505.4 540.2,518.4 551.9,521.8 563.5,528.5 575.1,530.9 586.8,529.0 598.4,531.4 610.1,530.9 621.7,532.3 621.7,549.6 610.1,544.3 598.4,543.8 586.8,541.4 575.1,542.4 563.5,540.0 551.9,532.3 540.2,528.0 505.3,514.1" fill="rgb(218,150,218)" fill-opacity="0.28"/>
<polygon points="505.3,509.8 540.2,508.3 551.9,506.9 563.5,508.3 575.1,511.2 586.8,517.4 598.4,519.8 610.1,521.8 621.7,524.6 621.7,537.1 610.1,532.3 598.4,529.4 586.8,527.0 575.1,520.8 563.5,517.0 551.9,515.5 540.2,516.0 505.3,517.4" fill="rgb(236,120,110)" fill-opacity="0.28"/>
<polyline points="505.3,509.8 540.2,523.2 551.9,527.0 563.5,534.2 575.1,536.6 586.8,535.2 598.4,537.6 610.1,537.6 621.7,541.0" stroke="#c8a1d2" stroke-width="1.25" fill="none" stroke-linejoin="round"/>
<polyline points="505.3,513.6 540.2,512.2 551.9,511.2 563.5,512.6 575.1,516.0 586.8,522.2 598.4,524.6 610.1,527.0 621.7,530.9" stroke="#e67565" stroke-width="1.25" fill="none" stroke-linejoin="round"/>
<polyline points="505.3,569.3 540.2,560.6 551.9,558.2 563.5,551.0 575.1,546.2 586.8,540.0 598.4,535.2 610.1,529.4 621.7,524.6" stroke="#3db2dc" stroke-width="1.25" fill="none" stroke-linejoin="round"/>
<path d="M499.3,485.1 V585.2 H627.0" stroke="#555" stroke-width="1.55" fill="none"/>
<path d="M494.8,576.0 H499.3 M494.8,552.0 H499.3 M494.8,528.0 H499.3 M494.8,504.0 H499.3 M505.3,585.2 V589.2 M540.2,585.2 V589.2 M551.9,585.2 V589.2 M563.5,585.2 V589.2 M575.1,585.2 V589.2 M586.8,585.2 V589.2 M598.4,585.2 V589.2 M610.1,585.2 V589.2 M621.7,585.2 V589.2 " stroke="#585858" stroke-width="1.3" fill="none"/>
<text x="483.0" y="579.2" font-size="8.6" fill="#333" textLength="6.2" lengthAdjust="spacingAndGlyphs" stroke="#333" stroke-width="0.35">5</text>
<text x="476.6" y="555.2" font-size="8.6" fill="#333" textLength="12.6" lengthAdjust="spacingAndGlyphs" stroke="#333" stroke-width="0.35">10</text>
<text x="477.2" y="531.2" font-size="8.6" fill="#333" textLength="12.0" lengthAdjust="spacingAndGlyphs" stroke="#333" stroke-width="0.35">15</text>
<text x="476.6" y="507.2" font-size="8.6" fill="#333" textLength="12.6" lengthAdjust="spacingAndGlyphs" stroke="#333" stroke-width="0.35">20</text>
<g fill="#b4b8c2" opacity="0.75"><circle cx="726.1" cy="405.3" r="0.75"/><circle cx="726.4" cy="415.6" r="0.75"/><circle cx="725.6" cy="402.1" r="0.75"/><circle cx="726.8" cy="402.1" r="0.75"/><circle cx="761.6" cy="406.5" r="0.75"/><circle cx="760.9" cy="413.5" r="0.75"/><circle cx="761.1" cy="412.2" r="0.75"/><circle cx="760.4" cy="398.2" r="0.75"/><circle cx="772.5" cy="394.9" r="0.75"/><circle cx="772.8" cy="393.3" r="0.75"/><circle cx="772.8" cy="405.3" r="0.75"/><circle cx="772.6" cy="404.0" r="0.75"/><circle cx="784.5" cy="408.7" r="0.75"/><circle cx="784.0" cy="411.5" r="0.75"/><circle cx="784.3" cy="405.8" r="0.75"/><circle cx="784.6" cy="391.3" r="0.75"/><circle cx="795.5" cy="399.1" r="0.75"/><circle cx="796.1" cy="421.8" r="0.75"/><circle cx="795.0" cy="414.8" r="0.75"/><circle cx="795.1" cy="409.1" r="0.75"/><circle cx="807.3" cy="426.3" r="0.75"/><circle cx="806.8" cy="414.8" r="0.75"/><circle cx="806.9" cy="408.0" r="0.75"/><circle cx="807.2" cy="416.5" r="0.75"/><circle cx="818.9" cy="403.4" r="0.75"/><circle cx="819.2" cy="410.4" r="0.75"/><circle cx="818.9" cy="437.3" r="0.75"/><circle cx="818.1" cy="398.6" r="0.75"/><circle cx="830.7" cy="437.6" r="0.75"/><circle cx="830.3" cy="404.9" r="0.75"/><circle cx="830.6" cy="421.3" r="0.75"/><circle cx="830.3" cy="416.7" r="0.75"/><circle cx="842.2" cy="424.5" r="0.75"/><circle cx="842.4" cy="428.4" r="0.75"/><circle cx="841.6" cy="438.9" r="0.75"/><circle cx="841.2" cy="433.7" r="0.75"/><circle cx="726.8" cy="399.4" r="0.75"/><circle cx="725.7" cy="418.4" r="0.75"/><circle cx="726.6" cy="401.5" r="0.75"/><circle cx="726.1" cy="401.8" r="0.75"/><circle cx="760.9" cy="427.0" r="0.75"/><circle cx="761.6" cy="391.4" r="0.75"/><circle cx="761.1" cy="407.2" r="0.75"/><circle cx="760.3" cy="411.9" r="0.75"/><circle cx="772.6" cy="412.4" r="0.75"/><circle cx="772.0" cy="418.1" r="0.75"/><circle cx="772.2" cy="426.8" r="0.75"/><circle cx="773.1" cy="414.2" r="0.75"/><circle cx="783.9" cy="422.2" r="0.75"/><circle cx="784.0" cy="409.9" r="0.75"/><circle cx="784.1" cy="407.7" r="0.75"/><circle cx="784.2" cy="405.7" r="0.75"/><circle cx="795.4" cy="429.3" r="0.75"/><circle cx="795.8" cy="415.5" r="0.75"/><circle cx="796.2" cy="420.0" r="0.75"/><circle cx="795.6" cy="427.0" r="0.75"/><circle cx="807.0" cy="422.2" r="0.75"/><circle cx="807.2" cy="423.1" r="0.75"/><circle cx="807.3" cy="435.9" r="0.75"/><circle cx="806.5" cy="425.1" r="0.75"/><circle cx="818.9" cy="418.2" r="0.75"/><circle cx="818.4" cy="418.0" r="0.75"/><circle cx="818.0" cy="421.3" r="0.75"/><circle cx="818.0" cy="411.0" r="0.75"/><circle cx="829.8" cy="417.3" r="0.75"/><circle cx="830.1" cy="407.0" r="0.75"/><circle cx="830.0" cy="421.1" r="0.75"/><circle cx="829.9" cy="423.4" r="0.75"/><circle cx="841.4" cy="423.6" r="0.75"/><circle cx="841.5" cy="440.7" r="0.75"/><circle cx="841.8" cy="432.1" r="0.75"/><circle cx="842.0" cy="429.8" r="0.75"/><circle cx="726.7" cy="442.0" r="0.75"/><circle cx="725.9" cy="450.2" r="0.75"/><circle cx="726.6" cy="448.0" r="0.75"/><circle cx="725.7" cy="453.2" r="0.75"/><circle cx="761.4" cy="434.1" r="0.75"/><circle cx="760.8" cy="445.0" r="0.75"/><circle cx="760.7" cy="441.0" r="0.75"/><circle cx="761.1" cy="433.4" r="0.75"/><circle cx="772.1" cy="443.4" r="0.75"/><circle cx="771.9" cy="429.5" r="0.75"/><circle cx="772.9" cy="430.3" r="0.75"/><circle cx="772.9" cy="434.9" r="0.75"/><circle cx="784.4" cy="435.6" r="0.75"/><circle cx="784.2" cy="439.3" r="0.75"/><circle cx="783.5" cy="435.5" r="0.75"/><circle cx="783.7" cy="424.9" r="0.75"/><circle cx="795.3" cy="431.3" r="0.75"/><circle cx="795.4" cy="422.5" r="0.75"/><circle cx="796.1" cy="421.3" r="0.75"/><circle cx="795.1" cy="433.8" r="0.75"/><circle cx="807.6" cy="445.9" r="0.75"/><circle cx="807.8" cy="425.0" r="0.75"/><circle cx="807.7" cy="404.2" r="0.75"/><circle cx="806.7" cy="433.2" r="0.75"/><circle cx="818.8" cy="418.9" r="0.75"/><circle cx="818.6" cy="402.3" r="0.75"/><circle cx="818.2" cy="417.4" r="0.75"/><circle cx="818.0" cy="427.3" r="0.75"/><circle cx="830.6" cy="409.8" r="0.75"/><circle cx="829.5" cy="412.1" r="0.75"/><circle cx="830.8" cy="427.4" r="0.75"/><circle cx="830.7" cy="408.2" r="0.75"/><circle cx="841.0" cy="418.1" r="0.75"/><circle cx="842.0" cy="401.6" r="0.75"/><circle cx="841.9" cy="412.1" r="0.75"/><circle cx="841.7" cy="415.2" r="0.75"/></g>
<path d="M760.9,372.8 V472.6" stroke="#a5a5a5" stroke-width="0.8"/>
<polygon points="726.3,439.3 760.9,432.7 772.5,431.0 784.0,427.7 795.5,424.4 807.1,419.4 818.6,414.4 830.2,411.1 841.7,404.0 841.7,413.1 830.2,421.0 818.6,424.4 807.1,429.4 795.5,434.3 784.0,437.7 772.5,441.0 760.9,442.7 726.3,449.3" fill="rgb(70,178,226)" fill-opacity="0.33"/>
<polygon points="726.3,400.2 760.9,402.7 772.5,402.7 784.0,405.2 795.5,407.7 807.1,412.7 818.6,416.0 830.2,418.5 841.7,421.0 841.7,429.4 830.2,426.9 818.6,424.4 807.1,421.0 795.5,416.0 784.0,413.6 772.5,411.1 760.9,411.1 726.3,408.6" fill="rgb(218,150,218)" fill-opacity="0.28"/>
<polygon points="726.3,399.4 760.9,404.4 772.5,405.2 784.0,411.1 795.5,415.2 807.1,419.4 818.6,421.0 830.2,423.5 841.7,427.7 841.7,436.0 830.2,431.8 818.6,429.4 807.1,427.7 795.5,423.5 784.0,419.4 772.5,413.6 760.9,412.7 726.3,407.7" fill="rgb(236,120,110)" fill-opacity="0.28"/>
<polyline points="726.3,404.4 760.9,406.9 772.5,406.9 784.0,409.4 795.5,411.9 807.1,416.9 818.6,420.2 830.2,422.7 841.7,425.2" stroke="#c8a1d2" stroke-width="1.25" fill="none" stroke-linejoin="round"/>
<polyline points="726.3,403.6 760.9,408.6 772.5,409.4 784.0,415.2 795.5,419.4 807.1,423.5 818.6,425.2 830.2,427.7 841.7,431.8" stroke="#e67565" stroke-width="1.25" fill="none" stroke-linejoin="round"/>
<polyline points="726.3,444.3 760.9,437.7 772.5,436.0 784.0,432.7 795.5,429.4 807.1,424.4 818.6,419.4 830.2,416.0 841.7,408.6" stroke="#3db2dc" stroke-width="1.25" fill="none" stroke-linejoin="round"/>
<path d="M721.3,372.8 V472.6 H848.7" stroke="#555" stroke-width="1.55" fill="none"/>
<path d="M716.8,472.6 H721.3 M716.8,456.0 H721.3 M716.8,439.3 H721.3 M716.8,422.7 H721.3 M716.8,406.1 H721.3 M716.8,389.4 H721.3 M716.8,372.8 H721.3 M726.3,472.6 V476.6 M760.9,472.6 V476.6 M772.5,472.6 V476.6 M784.0,472.6 V476.6 M795.5,472.6 V476.6 M807.1,472.6 V476.6 M818.6,472.6 V476.6 M830.2,472.6 V476.6 M841.7,472.6 V476.6 " stroke="#585858" stroke-width="1.3" fill="none"/>
<text x="698.0" y="475.8" font-size="8.6" fill="#333" textLength="12.6" lengthAdjust="spacingAndGlyphs" stroke="#333" stroke-width="0.35">12</text>
<text x="698.0" y="459.2" font-size="8.6" fill="#333" textLength="12.6" lengthAdjust="spacingAndGlyphs" stroke="#333" stroke-width="0.35">14</text>
<text x="698.0" y="442.5" font-size="8.6" fill="#333" textLength="12.6" lengthAdjust="spacingAndGlyphs" stroke="#333" stroke-width="0.35">16</text>
<text x="698.0" y="425.9" font-size="8.6" fill="#333" textLength="12.6" lengthAdjust="spacingAndGlyphs" stroke="#333" stroke-width="0.35">18</text>
<text x="698.0" y="409.3" font-size="8.6" fill="#333" textLength="12.6" lengthAdjust="spacingAndGlyphs" stroke="#333" stroke-width="0.35">20</text>
<text x="698.0" y="392.6" font-size="8.6" fill="#333" textLength="12.6" lengthAdjust="spacingAndGlyphs" stroke="#333" stroke-width="0.35">22</text>
<text x="698.0" y="376.0" font-size="8.6" fill="#333" textLength="12.6" lengthAdjust="spacingAndGlyphs" stroke="#333" stroke-width="0.35">24</text>
<g fill="#b4b8c2" opacity="0.75"><circle cx="726.2" cy="530.4" r="0.75"/><circle cx="725.8" cy="534.2" r="0.75"/><circle cx="726.9" cy="538.3" r="0.75"/><circle cx="726.7" cy="533.7" r="0.75"/><circle cx="761.0" cy="529.7" r="0.75"/><circle cx="760.6" cy="522.8" r="0.75"/><circle cx="760.5" cy="531.1" r="0.75"/><circle cx="761.5" cy="532.9" r="0.75"/><circle cx="772.9" cy="537.3" r="0.75"/><circle cx="772.0" cy="515.2" r="0.75"/><circle cx="772.8" cy="524.9" r="0.75"/><circle cx="773.0" cy="541.3" r="0.75"/><circle cx="784.1" cy="539.5" r="0.75"/><circle cx="784.2" cy="534.1" r="0.75"/><circle cx="784.0" cy="531.1" r="0.75"/><circle cx="783.4" cy="536.5" r="0.75"/><circle cx="795.6" cy="559.3" r="0.75"/><circle cx="795.3" cy="535.6" r="0.75"/><circle cx="796.1" cy="552.7" r="0.75"/><circle cx="796.0" cy="536.5" r="0.75"/><circle cx="807.2" cy="539.8" r="0.75"/><circle cx="807.0" cy="548.6" r="0.75"/><circle cx="807.5" cy="553.2" r="0.75"/><circle cx="806.4" cy="555.6" r="0.75"/><circle cx="818.3" cy="570.2" r="0.75"/><circle cx="818.7" cy="561.7" r="0.75"/><circle cx="819.3" cy="550.0" r="0.75"/><circle cx="818.2" cy="559.6" r="0.75"/><circle cx="830.3" cy="558.1" r="0.75"/><circle cx="829.8" cy="566.4" r="0.75"/><circle cx="829.9" cy="554.0" r="0.75"/><circle cx="830.2" cy="574.9" r="0.75"/><circle cx="841.1" cy="571.6" r="0.75"/><circle cx="841.3" cy="565.9" r="0.75"/><circle cx="841.3" cy="569.4" r="0.75"/><circle cx="841.5" cy="555.8" r="0.75"/><circle cx="725.7" cy="533.5" r="0.75"/><circle cx="726.6" cy="538.1" r="0.75"/><circle cx="726.6" cy="546.9" r="0.75"/><circle cx="726.9" cy="515.5" r="0.75"/><circle cx="761.6" cy="543.4" r="0.75"/><circle cx="761.3" cy="536.8" r="0.75"/><circle cx="761.1" cy="517.8" r="0.75"/><circle cx="761.4" cy="547.5" r="0.75"/><circle cx="772.4" cy="537.3" r="0.75"/><circle cx="772.0" cy="544.5" r="0.75"/><circle cx="772.2" cy="521.9" r="0.75"/><circle cx="771.8" cy="554.4" r="0.75"/><circle cx="784.4" cy="554.4" r="0.75"/><circle cx="783.8" cy="550.6" r="0.75"/><circle cx="784.7" cy="548.1" r="0.75"/><circle cx="783.9" cy="553.0" r="0.75"/><circle cx="794.9" cy="559.3" r="0.75"/><circle cx="795.1" cy="561.5" r="0.75"/><circle cx="794.9" cy="556.2" r="0.75"/><circle cx="795.5" cy="553.9" r="0.75"/><circle cx="806.6" cy="569.0" r="0.75"/><circle cx="807.1" cy="582.6" r="0.75"/><circle cx="807.8" cy="570.1" r="0.75"/><circle cx="807.0" cy="559.7" r="0.75"/><circle cx="818.0" cy="572.0" r="0.75"/><circle cx="818.5" cy="580.7" r="0.75"/><circle cx="819.1" cy="571.7" r="0.75"/><circle cx="818.6" cy="582.6" r="0.75"/><circle cx="829.8" cy="578.8" r="0.75"/><circle cx="829.8" cy="573.4" r="0.75"/><circle cx="829.7" cy="574.2" r="0.75"/><circle cx="829.5" cy="582.6" r="0.75"/><circle cx="842.4" cy="582.6" r="0.75"/><circle cx="841.6" cy="570.1" r="0.75"/><circle cx="842.1" cy="582.6" r="0.75"/><circle cx="842.0" cy="567.6" r="0.75"/><circle cx="725.9" cy="518.8" r="0.75"/><circle cx="726.8" cy="522.9" r="0.75"/><circle cx="726.1" cy="539.2" r="0.75"/><circle cx="726.5" cy="510.7" r="0.75"/><circle cx="761.4" cy="520.1" r="0.75"/><circle cx="761.0" cy="503.9" r="0.75"/><circle cx="760.6" cy="508.5" r="0.75"/><circle cx="761.5" cy="504.9" r="0.75"/><circle cx="773.1" cy="517.7" r="0.75"/><circle cx="773.1" cy="513.4" r="0.75"/><circle cx="773.0" cy="513.0" r="0.75"/><circle cx="771.9" cy="512.0" r="0.75"/><circle cx="783.4" cy="528.8" r="0.75"/><circle cx="783.5" cy="513.1" r="0.75"/><circle cx="784.3" cy="508.0" r="0.75"/><circle cx="784.6" cy="507.0" r="0.75"/><circle cx="796.1" cy="517.2" r="0.75"/><circle cx="794.9" cy="517.7" r="0.75"/><circle cx="796.0" cy="520.2" r="0.75"/><circle cx="795.9" cy="513.9" r="0.75"/><circle cx="807.6" cy="525.3" r="0.75"/><circle cx="806.7" cy="509.3" r="0.75"/><circle cx="807.6" cy="513.4" r="0.75"/><circle cx="807.5" cy="510.1" r="0.75"/><circle cx="818.0" cy="506.4" r="0.75"/><circle cx="818.0" cy="519.1" r="0.75"/><circle cx="819.1" cy="508.5" r="0.75"/><circle cx="818.8" cy="511.3" r="0.75"/><circle cx="830.5" cy="522.7" r="0.75"/><circle cx="830.2" cy="523.7" r="0.75"/><circle cx="830.6" cy="534.3" r="0.75"/><circle cx="829.6" cy="518.3" r="0.75"/><circle cx="842.1" cy="508.7" r="0.75"/><circle cx="841.4" cy="514.8" r="0.75"/><circle cx="842.4" cy="518.2" r="0.75"/><circle cx="841.1" cy="527.5" r="0.75"/></g>
<path d="M760.9,485.8 V585.6" stroke="#a5a5a5" stroke-width="0.8"/>
<polygon points="726.3,517.7 760.9,511.2 772.5,508.6 784.0,510.0 795.5,511.3 807.1,511.5 818.6,511.5 830.2,511.5 841.7,511.5 841.7,522.9 830.2,522.9 818.6,522.9 807.1,522.9 795.5,522.7 784.0,521.4 772.5,520.0 760.9,521.2 726.3,527.7" fill="rgb(70,178,226)" fill-opacity="0.33"/>
<polygon points="726.3,524.3 760.9,523.4 772.5,523.9 784.0,531.0 795.5,537.1 807.1,543.4 818.6,552.4 830.2,557.5 841.7,562.5 841.7,573.9 830.2,568.9 818.6,563.8 807.1,554.8 795.5,548.5 784.0,542.4 772.5,535.3 760.9,534.8 726.3,535.7" fill="rgb(218,150,218)" fill-opacity="0.28"/>
<polygon points="726.3,523.4 760.9,529.6 772.5,532.4 784.0,543.4 795.5,553.5 807.1,564.5 818.6,567.9 830.2,569.2 841.7,572.3 841.7,578.0 830.2,574.9 818.6,575.0 807.1,573.1 795.5,563.5 784.0,554.8 772.5,545.3 760.9,542.4 726.3,534.8" fill="rgb(236,120,110)" fill-opacity="0.28"/>
<polyline points="726.3,530.0 760.9,529.1 772.5,529.6 784.0,536.7 795.5,542.8 807.1,549.1 818.6,558.1 830.2,563.2 841.7,568.2" stroke="#c8a1d2" stroke-width="1.25" fill="none" stroke-linejoin="round"/>
<polyline points="726.3,529.1 760.9,536.0 772.5,538.8 784.0,549.1 795.5,558.5 807.1,568.8 818.6,571.5 830.2,572.1 841.7,575.2" stroke="#e67565" stroke-width="1.25" fill="none" stroke-linejoin="round"/>
<polyline points="726.3,522.7 760.9,516.2 772.5,514.3 784.0,515.7 795.5,517.0 807.1,517.2 818.6,517.2 830.2,517.2 841.7,517.2" stroke="#3db2dc" stroke-width="1.25" fill="none" stroke-linejoin="round"/>
<path d="M721.3,485.8 V585.6 H848.7" stroke="#555" stroke-width="1.55" fill="none"/>
<path d="M716.8,585.6 H721.3 M716.8,571.3 H721.3 M716.8,557.1 H721.3 M716.8,542.8 H721.3 M716.8,528.6 H721.3 M716.8,514.3 H721.3 M716.8,500.1 H721.3 M716.8,485.8 H721.3 M726.3,585.6 V589.6 M760.9,585.6 V589.6 M772.5,585.6 V589.6 M784.0,585.6 V589.6 M795.5,585.6 V589.6 M807.1,585.6 V589.6 M818.6,585.6 V589.6 M830.2,585.6 V589.6 M841.7,585.6 V589.6 " stroke="#585858" stroke-width="1.3" fill="none"/>
<text x="705.0" y="588.8" font-size="8.6" fill="#333" textLength="5.6" lengthAdjust="spacingAndGlyphs" stroke="#333" stroke-width="0.35">0</text>
<text x="684.5" y="574.5" font-size="8.6" fill="#333" textLength="26.1" lengthAdjust="spacingAndGlyphs" stroke="#333" stroke-width="0.35">1,000</text>
<text x="684.5" y="560.3" font-size="8.6" fill="#333" textLength="26.1" lengthAdjust="spacingAndGlyphs" stroke="#333" stroke-width="0.35">2,000</text>
<text x="684.5" y="546.0" font-size="8.6" fill="#333" textLength="26.1" lengthAdjust="spacingAndGlyphs" stroke="#333" stroke-width="0.35">3,000</text>
<text x="684.5" y="531.8" font-size="8.6" fill="#333" textLength="26.1" lengthAdjust="spacingAndGlyphs" stroke="#333" stroke-width="0.35">4,000</text>
<text x="684.5" y="517.5" font-size="8.6" fill="#333" textLength="26.1" lengthAdjust="spacingAndGlyphs" stroke="#333" stroke-width="0.35">5,000</text>
<text x="684.5" y="503.3" font-size="8.6" fill="#333" textLength="26.1" lengthAdjust="spacingAndGlyphs" stroke="#333" stroke-width="0.35">6,000</text>
<text x="684.5" y="489.0" font-size="8.6" fill="#333" textLength="26.1" lengthAdjust="spacingAndGlyphs" stroke="#333" stroke-width="0.35">7,000</text>
<text x="502.3" y="600.0" font-size="8.6" fill="#333" textLength="6.0" lengthAdjust="spacingAndGlyphs" stroke="#333" stroke-width="0.35">0</text>
<text x="537.2" y="600.0" font-size="8.6" fill="#333" textLength="6.0" lengthAdjust="spacingAndGlyphs" stroke="#333" stroke-width="0.35">3</text>
<text x="548.9" y="600.0" font-size="8.6" fill="#333" textLength="6.0" lengthAdjust="spacingAndGlyphs" stroke="#333" stroke-width="0.35">4</text>
<text x="560.5" y="600.0" font-size="8.6" fill="#333" textLength="6.0" lengthAdjust="spacingAndGlyphs" stroke="#333" stroke-width="0.35">5</text>
<text x="572.1" y="600.0" font-size="8.6" fill="#333" textLength="6.0" lengthAdjust="spacingAndGlyphs" stroke="#333" stroke-width="0.35">6</text>
<text x="583.8" y="600.0" font-size="8.6" fill="#333" textLength="6.0" lengthAdjust="spacingAndGlyphs" stroke="#333" stroke-width="0.35">7</text>
<text x="595.4" y="600.0" font-size="8.6" fill="#333" textLength="6.0" lengthAdjust="spacingAndGlyphs" stroke="#333" stroke-width="0.35">8</text>
<text x="607.1" y="600.0" font-size="8.6" fill="#333" textLength="6.0" lengthAdjust="spacingAndGlyphs" stroke="#333" stroke-width="0.35">9</text>
<text x="616.0" y="600.0" font-size="8.6" fill="#333" textLength="11.5" lengthAdjust="spacingAndGlyphs" stroke="#333" stroke-width="0.35">10</text>
<text x="723.3" y="600.0" font-size="8.6" fill="#333" textLength="6.0" lengthAdjust="spacingAndGlyphs" stroke="#333" stroke-width="0.35">0</text>
<text x="757.9" y="600.0" font-size="8.6" fill="#333" textLength="6.0" lengthAdjust="spacingAndGlyphs" stroke="#333" stroke-width="0.35">3</text>
<text x="769.5" y="600.0" font-size="8.6" fill="#333" textLength="6.0" lengthAdjust="spacingAndGlyphs" stroke="#333" stroke-width="0.35">4</text>
<text x="781.0" y="600.0" font-size="8.6" fill="#333" textLength="6.0" lengthAdjust="spacingAndGlyphs" stroke="#333" stroke-width="0.35">5</text>
<text x="792.5" y="600.0" font-size="8.6" fill="#333" textLength="6.0" lengthAdjust="spacingAndGlyphs" stroke="#333" stroke-width="0.35">6</text>
<text x="804.1" y="600.0" font-size="8.6" fill="#333" textLength="6.0" lengthAdjust="spacingAndGlyphs" stroke="#333" stroke-width="0.35">7</text>
<text x="815.6" y="600.0" font-size="8.6" fill="#333" textLength="6.0" lengthAdjust="spacingAndGlyphs" stroke="#333" stroke-width="0.35">8</text>
<text x="827.2" y="600.0" font-size="8.6" fill="#333" textLength="6.0" lengthAdjust="spacingAndGlyphs" stroke="#333" stroke-width="0.35">9</text>
<text x="835.9" y="600.0" font-size="8.6" fill="#333" textLength="11.5" lengthAdjust="spacingAndGlyphs" stroke="#333" stroke-width="0.35">10</text>
<text x="498.5" y="616.0" font-size="10.4" fill="#333" textLength="129.4" lengthAdjust="spacingAndGlyphs" stroke="#333" stroke-width="0.4">Time after attachment</text>
<text x="537.2" y="628.0" font-size="10.4" fill="#333" textLength="52.0" lengthAdjust="spacingAndGlyphs" stroke="#333" stroke-width="0.4">(months)</text>
<text x="719.5" y="616.0" font-size="10.4" fill="#333" textLength="130.2" lengthAdjust="spacingAndGlyphs" stroke="#333" stroke-width="0.4">Time after attachment</text>
<text x="758.2" y="628.0" font-size="10.4" fill="#333" textLength="52.8" lengthAdjust="spacingAndGlyphs" stroke="#333" stroke-width="0.4">(months)</text>
<text x="0.0" y="0.0" font-size="10.9" fill="#333" text-anchor="middle" textLength="75.8" lengthAdjust="spacingAndGlyphs" stroke="#333" stroke-width="0.5" transform="translate(466.8,422.7) scale(1.15,1) rotate(-90)">Body weight (g)</text>
<text x="0.0" y="0.0" font-size="10.2" fill="#333" text-anchor="middle" textLength="57.3" lengthAdjust="spacingAndGlyphs" stroke="#333" stroke-width="0.5" transform="translate(465.6,535.5) scale(1.15,1) rotate(-90)">Fat mass (g)</text>
<text x="0.0" y="0.0" font-size="10.1" fill="#333" text-anchor="middle" textLength="49.4" lengthAdjust="spacingAndGlyphs" stroke="#333" stroke-width="0.5" transform="translate(668.3,422.0) scale(1.15,1) rotate(-90)">Lean mass</text>
<text x="0.0" y="0.0" font-size="10.1" fill="#333" text-anchor="middle" textLength="11.5" lengthAdjust="spacingAndGlyphs" stroke="#333" stroke-width="0.5" transform="translate(681.8,422.4) scale(1.15,1) rotate(-90)">(g)</text>
<text x="0.0" y="0.0" font-size="10.8" fill="#333" text-anchor="middle" textLength="75.4" lengthAdjust="spacingAndGlyphs" stroke="#333" stroke-width="0.5" transform="translate(667.3,534.0) scale(1.15,1) rotate(-90)">Distance (cm/h)</text>
<path d="M624,419 V431.4" stroke="#333" stroke-width="1.6"/>
<text x="626.6" y="429.2" font-size="11.3" fill="#333" textLength="16.2" lengthAdjust="spacingAndGlyphs" stroke="#333" stroke-width="0.35">NS</text>
<path d="M623.8,529.7 V541.5" stroke="#333" stroke-width="1.6"/>
<polygon points="632.30,530.20 630.33,531.02 630.16,533.15 628.77,531.53 626.69,532.02 627.80,530.20 626.69,528.38 628.77,528.87 630.16,527.25 630.33,529.38" fill="#1e1e1e"/>
<polygon points="632.30,535.70 630.33,536.52 630.16,538.65 628.77,537.03 626.69,537.52 627.80,535.70 626.69,533.88 628.77,534.37 630.16,532.75 630.33,534.88" fill="#1e1e1e"/>
<polygon points="632.30,541.20 630.33,542.02 630.16,544.15 628.77,542.53 626.69,543.02 627.80,541.20 626.69,539.38 628.77,539.87 630.16,538.25 630.33,540.38" fill="#1e1e1e"/>
<path d="M847.8,421.7 V433" stroke="#333" stroke-width="1.6"/>
<polygon points="856.10,427.80 854.13,428.62 853.96,430.75 852.57,429.13 850.49,429.62 851.60,427.80 850.49,425.98 852.57,426.47 853.96,424.85 854.13,426.98" fill="#1e1e1e"/>
<path d="M845.8,566.3 V578" stroke="#333" stroke-width="1.6"/>
<polygon points="854.20,572.60 852.23,573.42 852.06,575.55 850.67,573.93 848.59,574.42 849.70,572.60 848.59,570.78 850.67,571.27 852.06,569.65 852.23,571.78" fill="#1e1e1e"/>
<g>
<rect x="758.5" y="622" width="98.8" height="8.8" rx="4.4" fill="#b6cdf0" opacity="0.75"/>
<text x="808" y="629.6" font-size="9" fill="#ffffff" text-anchor="middle" font-weight="bold" textLength="84" lengthAdjust="spacingAndGlyphs" opacity="0.9">www.bswzj.com</text>
<g stroke="#cfc8dc" stroke-width="0.9" fill="none" opacity="0.9"><path d="M743.3,604.3 L756.8,608.6 L755.7,620.7 L743,627.6 L730.4,622.2 L729.5,609.5 Z M743.3,604.3 L743.6,615.3 L743,627.6 M730.4,622.2 L743.6,615.3 L755.7,620.7"/></g>
<ellipse cx="743.3" cy="604.3" rx="2.9" ry="2.4" fill="#f1e58a" opacity="0.85"/>
<ellipse cx="756.8" cy="608.6" rx="2.9" ry="2.4" fill="#f1e58a" opacity="0.85"/>
<ellipse cx="755.7" cy="620.7" rx="2.9" ry="2.4" fill="#a9c6ea" opacity="0.85"/>
<ellipse cx="743" cy="627.6" rx="2.9" ry="2.4" fill="#a9c6ea" opacity="0.85"/>
<ellipse cx="730.4" cy="622.2" rx="2.9" ry="2.4" fill="#f1e58a" opacity="0.85"/>
<ellipse cx="729.5" cy="609.5" rx="2.9" ry="2.4" fill="#a9c6ea" opacity="0.85"/>
<ellipse cx="743.6" cy="615.3" rx="2.9" ry="2.4" fill="#f1e58a" opacity="0.85"/>
<g fill="none" stroke="#b3b5bd" stroke-width="2.6" stroke-linecap="round" stroke-linejoin="round" opacity="0.75"><g transform="translate(765.5,604)"><path d="M5,1.5 L3,6.5 M3.5,4.5 H16 M2.5,9 H17 M1,14 H19 M10,0.5 V14"/></g><g transform="translate(788.5,604)"><path d="M3,1 L2,5 M1,5 H7 M4.5,1 V14.5 M1,10 L7.5,8 M10,1 L8.5,5 M9.5,3.5 H18.5 Q18.5,11 16,14.5 L14.5,13.5 M13,4 L9.5,12 M16,4 L12,13.5"/></g><g transform="translate(811.5,604)"><path d="M9,0.5 L11,2.5 M3,5 H15.5 L5,12.5 M4.5,12.5 Q10,14.5 19,14.5"/></g><g transform="translate(834.5,604)"><path d="M10,0 V2 M2,5 V2.8 H18 V5 M5,6 H15 M10,6 Q9,9 4,12 M9,8.5 L5.5,10 M10,8.5 Q12,13 9,15 L7.5,14 M11,9.5 L17,14 M15,7.5 L17.5,6.5"/></g></g>
<g fill="none" stroke="#f4f4f6" stroke-width="1.0" stroke-linecap="round" stroke-linejoin="round" opacity="0.85"><g transform="translate(765.5,604)"><path d="M5,1.5 L3,6.5 M3.5,4.5 H16 M2.5,9 H17 M1,14 H19 M10,0.5 V14"/></g><g transform="translate(788.5,604)"><path d="M3,1 L2,5 M1,5 H7 M4.5,1 V14.5 M1,10 L7.5,8 M10,1 L8.5,5 M9.5,3.5 H18.5 Q18.5,11 16,14.5 L14.5,13.5 M13,4 L9.5,12 M16,4 L12,13.5"/></g><g transform="translate(811.5,604)"><path d="M9,0.5 L11,2.5 M3,5 H15.5 L5,12.5 M4.5,12.5 Q10,14.5 19,14.5"/></g><g transform="translate(834.5,604)"><path d="M10,0 V2 M2,5 V2.8 H18 V5 M5,6 H15 M10,6 Q9,9 4,12 M9,8.5 L5.5,10 M10,8.5 Q12,13 9,15 L7.5,14 M11,9.5 L17,14 M15,7.5 L17.5,6.5"/></g></g>
</g>
</svg></body></html>
